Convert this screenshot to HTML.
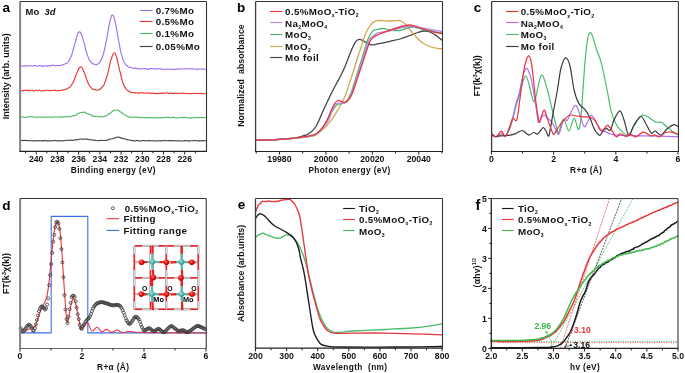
<!DOCTYPE html>
<html><head><meta charset="utf-8"><style>
html,body{margin:0;padding:0;background:#fff;}
svg{display:block;font-family:"Liberation Sans", sans-serif;will-change:transform;filter:blur(0.3px);}
</style></head><body>
<svg width="685" height="373" viewBox="0 0 685 373">
<rect width="685" height="373" fill="#fff"/>
<text x="6.20" y="12.30" font-size="13.5" font-weight="bold" text-anchor="middle" fill="#000" >a</text>
<path d="M20.70,65.91 C20.92,65.88 21.57,65.70 22.00,65.75 C22.43,65.79 22.87,66.20 23.30,66.19 C23.73,66.18 24.17,65.68 24.60,65.66 C25.03,65.65 25.47,66.03 25.90,66.08 C26.33,66.12 26.77,65.99 27.20,65.92 C27.63,65.84 28.07,65.61 28.50,65.63 C28.93,65.65 29.37,66.04 29.80,66.03 C30.23,66.02 30.67,65.61 31.10,65.60 C31.53,65.59 31.97,65.95 32.40,65.95 C32.83,65.95 33.27,65.67 33.70,65.61 C34.13,65.56 34.57,65.57 35.00,65.62 C35.43,65.67 35.87,65.80 36.30,65.91 C36.73,66.02 37.17,66.31 37.60,66.26 C38.03,66.21 38.47,65.71 38.90,65.62 C39.33,65.52 39.77,65.62 40.20,65.69 C40.63,65.76 41.07,65.94 41.50,66.04 C41.93,66.15 42.37,66.33 42.80,66.32 C43.23,66.30 43.67,66.05 44.10,65.96 C44.53,65.88 44.97,65.73 45.40,65.78 C45.83,65.84 46.27,66.34 46.70,66.28 C47.13,66.22 47.57,65.45 48.00,65.42 C48.43,65.40 48.87,66.10 49.30,66.13 C49.73,66.15 50.17,65.70 50.60,65.59 C51.03,65.47 51.47,65.46 51.90,65.42 C52.33,65.38 52.77,65.35 53.20,65.36 C53.63,65.37 54.07,65.40 54.50,65.49 C54.93,65.58 55.37,65.93 55.80,65.90 C56.23,65.86 56.67,65.32 57.10,65.27 C57.53,65.21 57.97,65.51 58.40,65.56 C58.83,65.60 59.27,65.59 59.70,65.52 C60.13,65.46 60.57,65.23 61.00,65.16 C61.43,65.10 61.87,65.27 62.30,65.15 C62.73,65.04 63.17,64.65 63.60,64.46 C64.03,64.28 64.47,64.20 64.90,64.05 C65.33,63.89 65.77,63.71 66.20,63.51 C66.63,63.32 67.07,63.30 67.50,62.89 C67.93,62.48 68.37,61.76 68.80,61.05 C69.23,60.34 69.67,59.51 70.10,58.62 C70.53,57.73 70.97,56.87 71.40,55.69 C71.83,54.52 72.27,53.05 72.70,51.56 C73.13,50.07 73.57,48.29 74.00,46.73 C74.43,45.17 74.87,43.74 75.30,42.18 C75.73,40.63 76.17,38.88 76.60,37.41 C77.03,35.94 77.47,34.30 77.90,33.38 C78.33,32.47 78.77,32.07 79.20,31.91 C79.63,31.74 80.07,31.81 80.50,32.39 C80.93,32.98 81.37,34.23 81.80,35.42 C82.23,36.61 82.67,38.09 83.10,39.54 C83.53,40.99 83.97,42.42 84.40,44.12 C84.83,45.82 85.27,48.18 85.70,49.74 C86.13,51.29 86.57,52.17 87.00,53.45 C87.43,54.72 87.87,56.23 88.30,57.40 C88.73,58.58 89.17,59.75 89.60,60.50 C90.03,61.25 90.47,61.42 90.90,61.91 C91.33,62.41 91.77,63.16 92.20,63.48 C92.63,63.79 93.07,63.60 93.50,63.79 C93.93,63.99 94.37,64.52 94.80,64.67 C95.23,64.83 95.67,64.81 96.10,64.72 C96.53,64.64 96.97,64.35 97.40,64.17 C97.83,63.99 98.27,64.04 98.70,63.63 C99.13,63.22 99.57,62.35 100.00,61.72 C100.43,61.09 100.87,60.72 101.30,59.85 C101.73,58.99 102.17,57.82 102.60,56.53 C103.03,55.23 103.47,53.79 103.90,52.08 C104.33,50.38 104.77,48.33 105.20,46.30 C105.63,44.27 106.07,42.19 106.50,39.92 C106.93,37.65 107.37,35.16 107.80,32.70 C108.23,30.24 108.67,27.36 109.10,25.14 C109.53,22.92 109.97,21.02 110.40,19.37 C110.83,17.71 111.27,15.87 111.70,15.19 C112.13,14.51 112.57,14.81 113.00,15.30 C113.43,15.79 113.87,16.66 114.30,18.11 C114.73,19.55 115.17,21.81 115.60,23.95 C116.03,26.08 116.47,28.56 116.90,30.91 C117.33,33.26 117.77,35.63 118.20,38.04 C118.63,40.45 119.07,43.06 119.50,45.37 C119.93,47.69 120.37,50.08 120.80,51.92 C121.23,53.76 121.67,54.96 122.10,56.41 C122.53,57.86 122.97,59.51 123.40,60.62 C123.83,61.72 124.27,62.35 124.70,63.05 C125.13,63.75 125.57,64.34 126.00,64.82 C126.43,65.30 126.87,65.52 127.30,65.94 C127.73,66.35 128.17,67.10 128.60,67.31 C129.03,67.52 129.47,67.15 129.90,67.20 C130.33,67.25 130.77,67.49 131.20,67.61 C131.63,67.73 132.07,67.79 132.50,67.94 C132.93,68.10 133.37,68.53 133.80,68.53 C134.23,68.52 134.67,67.96 135.10,67.93 C135.53,67.90 135.97,68.26 136.40,68.36 C136.83,68.46 137.27,68.44 137.70,68.53 C138.13,68.62 138.57,68.84 139.00,68.90 C139.43,68.96 139.87,68.89 140.30,68.90 C140.73,68.92 141.17,69.06 141.60,69.00 C142.03,68.93 142.47,68.57 142.90,68.52 C143.33,68.46 143.77,68.66 144.20,68.68 C144.63,68.71 145.07,68.59 145.50,68.67 C145.93,68.75 146.37,69.07 146.80,69.17 C147.23,69.27 147.67,69.37 148.10,69.27 C148.53,69.17 148.97,68.68 149.40,68.57 C149.83,68.46 150.27,68.60 150.70,68.62 C151.13,68.64 151.57,68.68 152.00,68.69 C152.43,68.71 152.87,68.67 153.30,68.71 C153.73,68.76 154.17,68.90 154.60,68.96 C155.03,69.02 155.47,69.10 155.90,69.07 C156.33,69.04 156.77,68.88 157.20,68.79 C157.63,68.71 158.07,68.55 158.50,68.58 C158.93,68.60 159.37,68.90 159.80,68.96 C160.23,69.02 160.67,68.91 161.10,68.93 C161.53,68.96 161.97,69.03 162.40,69.12 C162.83,69.21 163.27,69.46 163.70,69.48 C164.13,69.50 164.57,69.32 165.00,69.25 C165.43,69.19 165.87,69.11 166.30,69.11 C166.73,69.10 167.17,69.18 167.60,69.21 C168.03,69.23 168.47,69.35 168.90,69.27 C169.33,69.19 169.77,68.68 170.20,68.72 C170.63,68.75 171.07,69.37 171.50,69.48 C171.93,69.60 172.37,69.39 172.80,69.38 C173.23,69.38 173.67,69.47 174.10,69.48 C174.53,69.48 174.97,69.48 175.40,69.41 C175.83,69.34 176.27,69.11 176.70,69.05 C177.13,69.00 177.57,69.11 178.00,69.07 C178.43,69.02 178.87,68.77 179.30,68.80 C179.73,68.84 180.17,69.29 180.60,69.29 C181.03,69.28 181.47,68.86 181.90,68.78 C182.33,68.69 182.77,68.76 183.20,68.79 C183.63,68.81 184.07,68.90 184.50,68.92 C184.93,68.93 185.37,68.86 185.80,68.88 C186.23,68.90 186.67,69.06 187.10,69.04 C187.53,69.03 187.97,68.84 188.40,68.79 C188.83,68.74 189.27,68.73 189.70,68.75 C190.13,68.76 190.57,68.87 191.00,68.89 C191.43,68.90 191.87,68.81 192.30,68.84 C192.73,68.88 193.17,69.09 193.60,69.08 C194.03,69.07 194.47,68.70 194.90,68.78 C195.33,68.86 195.77,69.46 196.20,69.55 C196.63,69.64 197.07,69.42 197.50,69.32 C197.93,69.21 198.37,68.95 198.80,68.90 C199.23,68.85 199.67,68.97 200.10,69.00 C200.53,69.03 200.97,69.07 201.40,69.08 C201.83,69.10 202.27,69.13 202.70,69.10 C203.13,69.07 203.57,68.81 204.00,68.89 C204.43,68.96 205.08,69.43 205.30,69.54" fill="none" stroke="#a070f0" stroke-width="1.15" stroke-linejoin="round" stroke-linecap="round" />
<path d="M20.70,91.05 C20.92,90.97 21.57,90.65 22.00,90.58 C22.43,90.50 22.87,90.65 23.30,90.59 C23.73,90.53 24.17,90.29 24.60,90.23 C25.03,90.17 25.47,90.20 25.90,90.24 C26.33,90.28 26.77,90.43 27.20,90.45 C27.63,90.47 28.07,90.31 28.50,90.38 C28.93,90.45 29.37,90.90 29.80,90.88 C30.23,90.86 30.67,90.40 31.10,90.27 C31.53,90.15 31.97,90.03 32.40,90.14 C32.83,90.26 33.27,90.90 33.70,90.97 C34.13,91.05 34.57,90.71 35.00,90.59 C35.43,90.47 35.87,90.24 36.30,90.24 C36.73,90.24 37.17,90.61 37.60,90.59 C38.03,90.57 38.47,90.12 38.90,90.12 C39.33,90.11 39.77,90.42 40.20,90.56 C40.63,90.70 41.07,90.91 41.50,90.95 C41.93,91.00 42.37,90.89 42.80,90.84 C43.23,90.80 43.67,90.77 44.10,90.68 C44.53,90.59 44.97,90.33 45.40,90.28 C45.83,90.22 46.27,90.38 46.70,90.36 C47.13,90.34 47.57,90.11 48.00,90.16 C48.43,90.22 48.87,90.64 49.30,90.69 C49.73,90.74 50.17,90.46 50.60,90.46 C51.03,90.45 51.47,90.70 51.90,90.66 C52.33,90.62 52.77,90.33 53.20,90.23 C53.63,90.14 54.07,90.05 54.50,90.11 C54.93,90.17 55.37,90.51 55.80,90.61 C56.23,90.72 56.67,90.74 57.10,90.73 C57.53,90.73 57.97,90.62 58.40,90.57 C58.83,90.53 59.27,90.51 59.70,90.48 C60.13,90.46 60.57,90.47 61.00,90.43 C61.43,90.40 61.87,90.40 62.30,90.28 C62.73,90.16 63.17,89.78 63.60,89.70 C64.03,89.62 64.47,89.84 64.90,89.78 C65.33,89.72 65.77,89.54 66.20,89.34 C66.63,89.14 67.07,88.82 67.50,88.57 C67.93,88.31 68.37,88.09 68.80,87.80 C69.23,87.52 69.67,87.30 70.10,86.85 C70.53,86.41 70.97,85.74 71.40,85.14 C71.83,84.53 72.27,83.99 72.70,83.22 C73.13,82.46 73.57,81.64 74.00,80.56 C74.43,79.48 74.87,77.89 75.30,76.75 C75.73,75.60 76.17,74.72 76.60,73.68 C77.03,72.65 77.47,71.45 77.90,70.54 C78.33,69.62 78.77,68.82 79.20,68.20 C79.63,67.57 80.07,66.91 80.50,66.78 C80.93,66.65 81.37,66.95 81.80,67.44 C82.23,67.92 82.67,68.79 83.10,69.70 C83.53,70.61 83.97,71.76 84.40,72.88 C84.83,74.01 85.27,75.23 85.70,76.47 C86.13,77.70 86.57,79.12 87.00,80.30 C87.43,81.48 87.87,82.63 88.30,83.56 C88.73,84.49 89.17,85.27 89.60,85.90 C90.03,86.53 90.47,86.88 90.90,87.34 C91.33,87.81 91.77,88.32 92.20,88.70 C92.63,89.07 93.07,89.47 93.50,89.57 C93.93,89.68 94.37,89.27 94.80,89.34 C95.23,89.42 95.67,89.88 96.10,90.03 C96.53,90.18 96.97,90.25 97.40,90.22 C97.83,90.19 98.27,90.01 98.70,89.86 C99.13,89.72 99.57,89.61 100.00,89.33 C100.43,89.05 100.87,88.67 101.30,88.20 C101.73,87.73 102.17,87.06 102.60,86.51 C103.03,85.96 103.47,85.76 103.90,84.92 C104.33,84.09 104.77,82.66 105.20,81.50 C105.63,80.34 106.07,79.33 106.50,77.96 C106.93,76.60 107.37,75.06 107.80,73.29 C108.23,71.53 108.67,69.27 109.10,67.37 C109.53,65.47 109.97,63.54 110.40,61.91 C110.83,60.29 111.27,58.92 111.70,57.63 C112.13,56.35 112.57,55.02 113.00,54.21 C113.43,53.40 113.87,52.76 114.30,52.79 C114.73,52.82 115.17,53.49 115.60,54.40 C116.03,55.31 116.47,56.63 116.90,58.25 C117.33,59.88 117.77,62.22 118.20,64.15 C118.63,66.07 119.07,68.03 119.50,69.80 C119.93,71.56 120.37,73.01 120.80,74.74 C121.23,76.48 121.67,78.63 122.10,80.22 C122.53,81.81 122.97,83.17 123.40,84.30 C123.83,85.43 124.27,86.23 124.70,86.98 C125.13,87.73 125.57,88.24 126.00,88.81 C126.43,89.38 126.87,90.05 127.30,90.40 C127.73,90.76 128.17,90.77 128.60,90.93 C129.03,91.10 129.47,91.12 129.90,91.40 C130.33,91.68 130.77,92.42 131.20,92.61 C131.63,92.80 132.07,92.55 132.50,92.55 C132.93,92.55 133.37,92.51 133.80,92.59 C134.23,92.68 134.67,93.05 135.10,93.07 C135.53,93.09 135.97,92.69 136.40,92.71 C136.83,92.73 137.27,93.09 137.70,93.17 C138.13,93.25 138.57,93.27 139.00,93.19 C139.43,93.11 139.87,92.76 140.30,92.69 C140.73,92.62 141.17,92.75 141.60,92.77 C142.03,92.80 142.47,92.84 142.90,92.85 C143.33,92.86 143.77,92.78 144.20,92.84 C144.63,92.89 145.07,93.17 145.50,93.18 C145.93,93.19 146.37,92.93 146.80,92.91 C147.23,92.90 147.67,93.09 148.10,93.08 C148.53,93.07 148.97,92.76 149.40,92.85 C149.83,92.93 150.27,93.53 150.70,93.57 C151.13,93.61 151.57,93.15 152.00,93.08 C152.43,93.02 152.87,93.16 153.30,93.20 C153.73,93.24 154.17,93.25 154.60,93.32 C155.03,93.40 155.47,93.65 155.90,93.63 C156.33,93.61 156.77,93.20 157.20,93.20 C157.63,93.21 158.07,93.65 158.50,93.66 C158.93,93.68 159.37,93.35 159.80,93.30 C160.23,93.25 160.67,93.33 161.10,93.34 C161.53,93.34 161.97,93.41 162.40,93.34 C162.83,93.27 163.27,92.90 163.70,92.89 C164.13,92.88 164.57,93.25 165.00,93.28 C165.43,93.31 165.87,93.12 166.30,93.06 C166.73,92.99 167.17,92.81 167.60,92.90 C168.03,93.00 168.47,93.60 168.90,93.63 C169.33,93.65 169.77,93.11 170.20,93.07 C170.63,93.02 171.07,93.26 171.50,93.34 C171.93,93.43 172.37,93.56 172.80,93.58 C173.23,93.59 173.67,93.49 174.10,93.43 C174.53,93.37 174.97,93.23 175.40,93.23 C175.83,93.22 176.27,93.37 176.70,93.40 C177.13,93.44 177.57,93.40 178.00,93.44 C178.43,93.48 178.87,93.72 179.30,93.65 C179.73,93.59 180.17,93.08 180.60,93.05 C181.03,93.01 181.47,93.44 181.90,93.46 C182.33,93.48 182.77,93.22 183.20,93.18 C183.63,93.14 184.07,93.13 184.50,93.21 C184.93,93.29 185.37,93.62 185.80,93.66 C186.23,93.69 186.67,93.45 187.10,93.42 C187.53,93.39 187.97,93.44 188.40,93.48 C188.83,93.51 189.27,93.60 189.70,93.66 C190.13,93.71 190.57,93.84 191.00,93.80 C191.43,93.75 191.87,93.42 192.30,93.38 C192.73,93.33 193.17,93.52 193.60,93.53 C194.03,93.54 194.47,93.45 194.90,93.44 C195.33,93.42 195.77,93.42 196.20,93.45 C196.63,93.47 197.07,93.62 197.50,93.61 C197.93,93.60 198.37,93.42 198.80,93.40 C199.23,93.37 199.67,93.47 200.10,93.47 C200.53,93.48 200.97,93.36 201.40,93.42 C201.83,93.48 202.27,93.81 202.70,93.84 C203.13,93.88 203.57,93.63 204.00,93.63 C204.43,93.62 205.08,93.76 205.30,93.79" fill="none" stroke="#e83535" stroke-width="1.15" stroke-linejoin="round" stroke-linecap="round" />
<path d="M20.70,117.43 C20.92,117.34 21.57,116.94 22.00,116.89 C22.43,116.83 22.87,117.03 23.30,117.13 C23.73,117.22 24.17,117.39 24.60,117.43 C25.03,117.47 25.47,117.46 25.90,117.35 C26.33,117.24 26.77,116.88 27.20,116.79 C27.63,116.69 28.07,116.73 28.50,116.77 C28.93,116.81 29.37,117.03 29.80,117.03 C30.23,117.02 30.67,116.76 31.10,116.73 C31.53,116.70 31.97,116.86 32.40,116.86 C32.83,116.86 33.27,116.67 33.70,116.73 C34.13,116.79 34.57,117.11 35.00,117.20 C35.43,117.30 35.87,117.26 36.30,117.29 C36.73,117.32 37.17,117.47 37.60,117.38 C38.03,117.30 38.47,116.81 38.90,116.79 C39.33,116.76 39.77,117.17 40.20,117.24 C40.63,117.30 41.07,117.27 41.50,117.19 C41.93,117.11 42.37,116.74 42.80,116.77 C43.23,116.80 43.67,117.25 44.10,117.36 C44.53,117.47 44.97,117.52 45.40,117.43 C45.83,117.34 46.27,116.83 46.70,116.83 C47.13,116.82 47.57,117.39 48.00,117.41 C48.43,117.43 48.87,117.03 49.30,116.96 C49.73,116.90 50.17,116.95 50.60,117.03 C51.03,117.11 51.47,117.38 51.90,117.43 C52.33,117.47 52.77,117.41 53.20,117.30 C53.63,117.19 54.07,116.81 54.50,116.76 C54.93,116.70 55.37,116.92 55.80,116.97 C56.23,117.01 56.67,117.04 57.10,117.03 C57.53,117.01 57.97,116.92 58.40,116.88 C58.83,116.83 59.27,116.76 59.70,116.75 C60.13,116.75 60.57,116.77 61.00,116.84 C61.43,116.90 61.87,117.19 62.30,117.15 C62.73,117.10 63.17,116.59 63.60,116.56 C64.03,116.53 64.47,116.91 64.90,116.96 C65.33,117.00 65.77,116.91 66.20,116.82 C66.63,116.73 67.07,116.45 67.50,116.40 C67.93,116.36 68.37,116.51 68.80,116.54 C69.23,116.58 69.67,116.66 70.10,116.61 C70.53,116.57 70.97,116.46 71.40,116.29 C71.83,116.13 72.27,115.68 72.70,115.62 C73.13,115.56 73.57,116.01 74.00,115.95 C74.43,115.90 74.87,115.48 75.30,115.31 C75.73,115.13 76.17,115.17 76.60,114.89 C77.03,114.61 77.47,113.89 77.90,113.60 C78.33,113.31 78.77,113.33 79.20,113.14 C79.63,112.95 80.07,112.53 80.50,112.46 C80.93,112.39 81.37,112.75 81.80,112.70 C82.23,112.65 82.67,112.26 83.10,112.17 C83.53,112.08 83.97,112.08 84.40,112.18 C84.83,112.27 85.27,112.51 85.70,112.75 C86.13,113.00 86.57,113.42 87.00,113.65 C87.43,113.89 87.87,114.06 88.30,114.17 C88.73,114.29 89.17,114.23 89.60,114.34 C90.03,114.45 90.47,114.56 90.90,114.83 C91.33,115.10 91.77,115.74 92.20,115.95 C92.63,116.16 93.07,115.99 93.50,116.09 C93.93,116.18 94.37,116.48 94.80,116.51 C95.23,116.53 95.67,116.27 96.10,116.25 C96.53,116.22 96.97,116.25 97.40,116.37 C97.83,116.48 98.27,116.88 98.70,116.95 C99.13,117.01 99.57,116.84 100.00,116.75 C100.43,116.66 100.87,116.37 101.30,116.41 C101.73,116.44 102.17,116.95 102.60,116.96 C103.03,116.98 103.47,116.60 103.90,116.48 C104.33,116.36 104.77,116.47 105.20,116.25 C105.63,116.03 106.07,115.35 106.50,115.15 C106.93,114.96 107.37,115.34 107.80,115.09 C108.23,114.83 108.67,113.91 109.10,113.61 C109.53,113.30 109.97,113.55 110.40,113.27 C110.83,112.99 111.27,112.33 111.70,111.93 C112.13,111.53 112.57,111.16 113.00,110.89 C113.43,110.62 113.87,110.43 114.30,110.32 C114.73,110.21 115.17,110.33 115.60,110.23 C116.03,110.14 116.47,109.77 116.90,109.76 C117.33,109.74 117.77,109.88 118.20,110.13 C118.63,110.39 119.07,110.95 119.50,111.27 C119.93,111.60 120.37,111.77 120.80,112.06 C121.23,112.35 121.67,112.68 122.10,113.01 C122.53,113.35 122.97,113.75 123.40,114.06 C123.83,114.36 124.27,114.57 124.70,114.84 C125.13,115.11 125.57,115.42 126.00,115.66 C126.43,115.90 126.87,116.12 127.30,116.29 C127.73,116.45 128.17,116.50 128.60,116.66 C129.03,116.83 129.47,117.22 129.90,117.29 C130.33,117.36 130.77,117.07 131.20,117.08 C131.63,117.09 132.07,117.35 132.50,117.36 C132.93,117.38 133.37,117.17 133.80,117.17 C134.23,117.17 134.67,117.36 135.10,117.35 C135.53,117.35 135.97,117.13 136.40,117.12 C136.83,117.12 137.27,117.32 137.70,117.33 C138.13,117.34 138.57,117.09 139.00,117.16 C139.43,117.23 139.87,117.67 140.30,117.75 C140.73,117.82 141.17,117.68 141.60,117.62 C142.03,117.55 142.47,117.34 142.90,117.34 C143.33,117.33 143.77,117.47 144.20,117.57 C144.63,117.68 145.07,118.00 145.50,117.95 C145.93,117.90 146.37,117.31 146.80,117.29 C147.23,117.28 147.67,117.83 148.10,117.87 C148.53,117.92 148.97,117.61 149.40,117.57 C149.83,117.53 150.27,117.57 150.70,117.62 C151.13,117.68 151.57,117.91 152.00,117.90 C152.43,117.89 152.87,117.59 153.30,117.55 C153.73,117.51 154.17,117.60 154.60,117.64 C155.03,117.68 155.47,117.73 155.90,117.79 C156.33,117.86 156.77,118.08 157.20,118.03 C157.63,117.99 158.07,117.54 158.50,117.52 C158.93,117.50 159.37,117.87 159.80,117.92 C160.23,117.97 160.67,117.84 161.10,117.82 C161.53,117.79 161.97,117.80 162.40,117.77 C162.83,117.73 163.27,117.62 163.70,117.58 C164.13,117.54 164.57,117.58 165.00,117.54 C165.43,117.49 165.87,117.33 166.30,117.31 C166.73,117.28 167.17,117.37 167.60,117.37 C168.03,117.37 168.47,117.24 168.90,117.32 C169.33,117.40 169.77,117.83 170.20,117.86 C170.63,117.88 171.07,117.55 171.50,117.47 C171.93,117.40 172.37,117.42 172.80,117.40 C173.23,117.38 173.67,117.25 174.10,117.34 C174.53,117.43 174.97,117.84 175.40,117.95 C175.83,118.05 176.27,117.99 176.70,117.97 C177.13,117.95 177.57,117.89 178.00,117.81 C178.43,117.73 178.87,117.56 179.30,117.50 C179.73,117.44 180.17,117.47 180.60,117.47 C181.03,117.47 181.47,117.48 181.90,117.51 C182.33,117.54 182.77,117.66 183.20,117.65 C183.63,117.63 184.07,117.41 184.50,117.40 C184.93,117.40 185.37,117.62 185.80,117.64 C186.23,117.65 186.67,117.42 187.10,117.49 C187.53,117.56 187.97,117.96 188.40,118.05 C188.83,118.15 189.27,118.11 189.70,118.06 C190.13,118.00 190.57,117.82 191.00,117.72 C191.43,117.62 191.87,117.42 192.30,117.48 C192.73,117.53 193.17,118.05 193.60,118.06 C194.03,118.06 194.47,117.61 194.90,117.53 C195.33,117.45 195.77,117.61 196.20,117.57 C196.63,117.53 197.07,117.28 197.50,117.29 C197.93,117.29 198.37,117.53 198.80,117.59 C199.23,117.65 199.67,117.65 200.10,117.67 C200.53,117.68 200.97,117.72 201.40,117.69 C201.83,117.65 202.27,117.45 202.70,117.45 C203.13,117.45 203.57,117.72 204.00,117.69 C204.43,117.67 205.08,117.36 205.30,117.29" fill="none" stroke="#4cbb6c" stroke-width="1.15" stroke-linejoin="round" stroke-linecap="round" />
<path d="M20.70,140.55 C20.92,140.53 21.57,140.43 22.00,140.44 C22.43,140.46 22.87,140.63 23.30,140.63 C23.73,140.63 24.17,140.45 24.60,140.41 C25.03,140.38 25.47,140.38 25.90,140.40 C26.33,140.43 26.77,140.55 27.20,140.57 C27.63,140.59 28.07,140.50 28.50,140.53 C28.93,140.56 29.37,140.71 29.80,140.74 C30.23,140.77 30.67,140.69 31.10,140.71 C31.53,140.72 31.97,140.82 32.40,140.84 C32.83,140.85 33.27,140.78 33.70,140.78 C34.13,140.78 34.57,140.79 35.00,140.82 C35.43,140.84 35.87,140.95 36.30,140.91 C36.73,140.88 37.17,140.67 37.60,140.62 C38.03,140.56 38.47,140.52 38.90,140.58 C39.33,140.64 39.77,140.99 40.20,140.97 C40.63,140.96 41.07,140.50 41.50,140.47 C41.93,140.45 42.37,140.77 42.80,140.82 C43.23,140.87 43.67,140.83 44.10,140.77 C44.53,140.70 44.97,140.39 45.40,140.41 C45.83,140.42 46.27,140.80 46.70,140.88 C47.13,140.96 47.57,140.93 48.00,140.91 C48.43,140.89 48.87,140.77 49.30,140.75 C49.73,140.74 50.17,140.80 50.60,140.81 C51.03,140.83 51.47,140.92 51.90,140.86 C52.33,140.80 52.77,140.48 53.20,140.45 C53.63,140.42 54.07,140.65 54.50,140.68 C54.93,140.72 55.37,140.64 55.80,140.67 C56.23,140.70 56.67,140.83 57.10,140.86 C57.53,140.89 57.97,140.84 58.40,140.84 C58.83,140.84 59.27,140.87 59.70,140.85 C60.13,140.83 60.57,140.69 61.00,140.70 C61.43,140.70 61.87,140.87 62.30,140.88 C62.73,140.88 63.17,140.76 63.60,140.74 C64.03,140.71 64.47,140.78 64.90,140.73 C65.33,140.67 65.77,140.50 66.20,140.42 C66.63,140.35 67.07,140.29 67.50,140.27 C67.93,140.24 68.37,140.26 68.80,140.28 C69.23,140.29 69.67,140.37 70.10,140.34 C70.53,140.31 70.97,140.08 71.40,140.09 C71.83,140.10 72.27,140.40 72.70,140.40 C73.13,140.40 73.57,140.16 74.00,140.08 C74.43,140.00 74.87,140.00 75.30,139.94 C75.73,139.89 76.17,139.81 76.60,139.75 C77.03,139.68 77.47,139.66 77.90,139.58 C78.33,139.50 78.77,139.40 79.20,139.27 C79.63,139.15 80.07,138.84 80.50,138.83 C80.93,138.81 81.37,139.15 81.80,139.20 C82.23,139.25 82.67,139.17 83.10,139.14 C83.53,139.11 83.97,139.03 84.40,139.04 C84.83,139.04 85.27,139.11 85.70,139.17 C86.13,139.23 86.57,139.39 87.00,139.41 C87.43,139.42 87.87,139.17 88.30,139.24 C88.73,139.32 89.17,139.76 89.60,139.84 C90.03,139.93 90.47,139.75 90.90,139.75 C91.33,139.74 91.77,139.76 92.20,139.81 C92.63,139.87 93.07,139.96 93.50,140.07 C93.93,140.18 94.37,140.44 94.80,140.47 C95.23,140.49 95.67,140.21 96.10,140.24 C96.53,140.26 96.97,140.52 97.40,140.62 C97.83,140.71 98.27,140.81 98.70,140.79 C99.13,140.78 99.57,140.58 100.00,140.52 C100.43,140.46 100.87,140.45 101.30,140.44 C101.73,140.43 102.17,140.45 102.60,140.47 C103.03,140.48 103.47,140.52 103.90,140.52 C104.33,140.52 104.77,140.52 105.20,140.47 C105.63,140.42 106.07,140.30 106.50,140.22 C106.93,140.15 107.37,140.16 107.80,140.03 C108.23,139.89 108.67,139.57 109.10,139.41 C109.53,139.26 109.97,139.22 110.40,139.12 C110.83,139.02 111.27,138.87 111.70,138.80 C112.13,138.72 112.57,138.81 113.00,138.68 C113.43,138.55 113.87,138.16 114.30,138.01 C114.73,137.87 115.17,137.95 115.60,137.82 C116.03,137.70 116.47,137.35 116.90,137.25 C117.33,137.14 117.77,137.16 118.20,137.18 C118.63,137.21 119.07,137.28 119.50,137.39 C119.93,137.50 120.37,137.72 120.80,137.86 C121.23,138.00 121.67,138.10 122.10,138.22 C122.53,138.35 122.97,138.52 123.40,138.62 C123.83,138.72 124.27,138.69 124.70,138.81 C125.13,138.93 125.57,139.20 126.00,139.35 C126.43,139.49 126.87,139.57 127.30,139.67 C127.73,139.77 128.17,139.91 128.60,139.96 C129.03,140.01 129.47,139.87 129.90,139.98 C130.33,140.09 130.77,140.56 131.20,140.61 C131.63,140.67 132.07,140.28 132.50,140.32 C132.93,140.36 133.37,140.77 133.80,140.87 C134.23,140.96 134.67,140.98 135.10,140.90 C135.53,140.82 135.97,140.42 136.40,140.38 C136.83,140.34 137.27,140.58 137.70,140.67 C138.13,140.76 138.57,140.85 139.00,140.90 C139.43,140.96 139.87,141.04 140.30,141.00 C140.73,140.97 141.17,140.77 141.60,140.70 C142.03,140.63 142.47,140.62 142.90,140.60 C143.33,140.58 143.77,140.50 144.20,140.57 C144.63,140.64 145.07,141.01 145.50,141.02 C145.93,141.02 146.37,140.61 146.80,140.58 C147.23,140.54 147.67,140.81 148.10,140.80 C148.53,140.80 148.97,140.55 149.40,140.54 C149.83,140.54 150.27,140.69 150.70,140.78 C151.13,140.86 151.57,141.07 152.00,141.04 C152.43,141.00 152.87,140.56 153.30,140.55 C153.73,140.53 154.17,140.92 154.60,140.96 C155.03,141.00 155.47,140.77 155.90,140.78 C156.33,140.78 156.77,140.98 157.20,141.00 C157.63,141.02 158.07,140.96 158.50,140.90 C158.93,140.83 159.37,140.59 159.80,140.61 C160.23,140.63 160.67,140.99 161.10,141.02 C161.53,141.04 161.97,140.86 162.40,140.77 C162.83,140.68 163.27,140.54 163.70,140.49 C164.13,140.45 164.57,140.44 165.00,140.48 C165.43,140.53 165.87,140.73 166.30,140.78 C166.73,140.82 167.17,140.77 167.60,140.75 C168.03,140.73 168.47,140.69 168.90,140.66 C169.33,140.63 169.77,140.56 170.20,140.57 C170.63,140.57 171.07,140.67 171.50,140.69 C171.93,140.71 172.37,140.63 172.80,140.67 C173.23,140.72 173.67,141.02 174.10,140.99 C174.53,140.96 174.97,140.50 175.40,140.49 C175.83,140.48 176.27,140.85 176.70,140.94 C177.13,141.02 177.57,141.05 178.00,140.99 C178.43,140.93 178.87,140.55 179.30,140.56 C179.73,140.57 180.17,140.98 180.60,141.04 C181.03,141.10 181.47,140.92 181.90,140.92 C182.33,140.91 182.77,141.07 183.20,141.03 C183.63,140.99 184.07,140.72 184.50,140.66 C184.93,140.61 185.37,140.70 185.80,140.71 C186.23,140.72 186.67,140.66 187.10,140.73 C187.53,140.79 187.97,141.07 188.40,141.09 C188.83,141.11 189.27,140.91 189.70,140.84 C190.13,140.78 190.57,140.72 191.00,140.71 C191.43,140.69 191.87,140.76 192.30,140.75 C192.73,140.74 193.17,140.69 193.60,140.66 C194.03,140.62 194.47,140.54 194.90,140.52 C195.33,140.50 195.77,140.47 196.20,140.55 C196.63,140.63 197.07,140.98 197.50,140.99 C197.93,141.01 198.37,140.65 198.80,140.66 C199.23,140.67 199.67,141.06 200.10,141.05 C200.53,141.05 200.97,140.71 201.40,140.64 C201.83,140.58 202.27,140.63 202.70,140.65 C203.13,140.68 203.57,140.81 204.00,140.80 C204.43,140.79 205.08,140.64 205.30,140.61" fill="none" stroke="#444" stroke-width="1.15" stroke-linejoin="round" stroke-linecap="round" />
<line x1="20.10" y1="1.50" x2="20.10" y2="151.40" stroke="#858585" stroke-width="2.0" />
<line x1="19.40" y1="151.40" x2="207.00" y2="151.40" stroke="#222" stroke-width="1.2" />
<line x1="20.10" y1="1.50" x2="206.50" y2="1.50" stroke="#333" stroke-width="1.0" />
<line x1="206.50" y1="1.50" x2="206.50" y2="151.40" stroke="#333" stroke-width="1.1" />
<line x1="36.20" y1="151.40" x2="36.20" y2="154.50" stroke="#222" stroke-width="1.0" />
<line x1="57.42" y1="151.40" x2="57.42" y2="154.50" stroke="#222" stroke-width="1.0" />
<line x1="78.64" y1="151.40" x2="78.64" y2="154.50" stroke="#222" stroke-width="1.0" />
<line x1="99.86" y1="151.40" x2="99.86" y2="154.50" stroke="#222" stroke-width="1.0" />
<line x1="121.08" y1="151.40" x2="121.08" y2="154.50" stroke="#222" stroke-width="1.0" />
<line x1="142.30" y1="151.40" x2="142.30" y2="154.50" stroke="#222" stroke-width="1.0" />
<line x1="163.52" y1="151.40" x2="163.52" y2="154.50" stroke="#222" stroke-width="1.0" />
<line x1="184.74" y1="151.40" x2="184.74" y2="154.50" stroke="#222" stroke-width="1.0" />
<line x1="25.59" y1="151.40" x2="25.59" y2="153.40" stroke="#222" stroke-width="1.0" />
<line x1="46.81" y1="151.40" x2="46.81" y2="153.40" stroke="#222" stroke-width="1.0" />
<line x1="68.03" y1="151.40" x2="68.03" y2="153.40" stroke="#222" stroke-width="1.0" />
<line x1="89.25" y1="151.40" x2="89.25" y2="153.40" stroke="#222" stroke-width="1.0" />
<line x1="110.47" y1="151.40" x2="110.47" y2="153.40" stroke="#222" stroke-width="1.0" />
<line x1="131.69" y1="151.40" x2="131.69" y2="153.40" stroke="#222" stroke-width="1.0" />
<line x1="152.91" y1="151.40" x2="152.91" y2="153.40" stroke="#222" stroke-width="1.0" />
<line x1="174.13" y1="151.40" x2="174.13" y2="153.40" stroke="#222" stroke-width="1.0" />
<line x1="195.35" y1="151.40" x2="195.35" y2="153.40" stroke="#222" stroke-width="1.0" />
<text x="36.20" y="162.00" font-size="8.7" font-weight="bold" text-anchor="middle" fill="#111" >240</text>
<text x="57.42" y="162.00" font-size="8.7" font-weight="bold" text-anchor="middle" fill="#111" >238</text>
<text x="78.64" y="162.00" font-size="8.7" font-weight="bold" text-anchor="middle" fill="#111" >236</text>
<text x="99.86" y="162.00" font-size="8.7" font-weight="bold" text-anchor="middle" fill="#111" >234</text>
<text x="121.08" y="162.00" font-size="8.7" font-weight="bold" text-anchor="middle" fill="#111" >232</text>
<text x="142.30" y="162.00" font-size="8.7" font-weight="bold" text-anchor="middle" fill="#111" >230</text>
<text x="163.52" y="162.00" font-size="8.7" font-weight="bold" text-anchor="middle" fill="#111" >228</text>
<text x="184.74" y="162.00" font-size="8.7" font-weight="bold" text-anchor="middle" fill="#111" >226</text>
<text x="113.38" y="173.00" font-size="8.3" font-weight="bold" text-anchor="middle" fill="#111" letter-spacing="0.35" >Binding energy (eV)</text>
<text x="9.00" y="76.30" font-size="9.0" font-weight="bold" text-anchor="middle" fill="#111" transform="rotate(-90 9.0 76.3)">Intensity (arb. units)</text>
<text x="25.60" y="14.80" font-size="9.4" font-weight="bold" text-anchor="start" fill="#111" >Mo</text>
<text x="44.60" y="14.80" font-size="9.4" font-weight="bold" text-anchor="start" fill="#111" font-style="italic">3d</text>
<line x1="139.80" y1="10.50" x2="152.60" y2="10.50" stroke="#a070f0" stroke-width="1.15" />
<text x="155.70" y="14.00" font-size="9.8" font-weight="bold" text-anchor="start" fill="#111" letter-spacing="0.35" >0.7%Mo</text>
<line x1="139.80" y1="21.50" x2="152.60" y2="21.50" stroke="#e83535" stroke-width="1.15" />
<text x="155.70" y="25.30" font-size="9.8" font-weight="bold" text-anchor="start" fill="#111" letter-spacing="0.35" >0.5%Mo</text>
<line x1="139.80" y1="33.50" x2="152.60" y2="33.50" stroke="#4cbb6c" stroke-width="1.15" />
<text x="155.70" y="37.40" font-size="9.8" font-weight="bold" text-anchor="start" fill="#111" letter-spacing="0.35" >0.1%Mo</text>
<line x1="139.80" y1="46.50" x2="152.60" y2="46.50" stroke="#444" stroke-width="1.15" />
<text x="155.70" y="49.80" font-size="9.8" font-weight="bold" text-anchor="start" fill="#111" letter-spacing="0.35" >0.05%Mo</text>
<text x="241.20" y="12.30" font-size="13.5" font-weight="bold" text-anchor="middle" fill="#000" >b</text>
<path d="M255.80,140.40 C259.00,140.27 269.30,139.92 275.00,139.60 C280.70,139.28 285.83,138.97 290.00,138.50 C294.17,138.03 296.83,137.63 300.00,136.80 C303.17,135.97 306.33,135.22 309.00,133.50 C311.67,131.78 313.70,130.17 316.00,126.50 C318.30,122.83 320.53,116.42 322.80,111.50 C325.07,106.58 327.32,101.67 329.60,97.00 C331.88,92.33 334.77,86.83 336.50,83.50 C338.23,80.17 338.62,79.73 340.00,77.00 C341.38,74.27 342.98,71.37 344.80,67.10 C346.62,62.83 349.08,55.63 350.90,51.40 C352.72,47.17 354.30,43.72 355.70,41.70 C357.10,39.68 357.88,39.37 359.30,39.30 C360.72,39.23 362.18,40.37 364.20,41.30 C366.22,42.23 369.00,44.50 371.40,44.90 C373.80,45.30 375.50,44.30 378.60,43.70 C381.70,43.10 386.43,42.08 390.00,41.30 C393.57,40.52 396.67,39.97 400.00,39.00 C403.33,38.03 407.00,36.58 410.00,35.50 C413.00,34.42 415.67,33.25 418.00,32.50 C420.33,31.75 422.00,31.08 424.00,31.00 C426.00,30.92 428.00,31.25 430.00,32.00 C432.00,32.75 433.95,34.10 436.00,35.50 C438.05,36.90 441.25,39.58 442.30,40.40" fill="none" stroke="#444" stroke-width="1.3" stroke-linejoin="round" stroke-linecap="round" />
<path d="M255.80,140.40 C259.83,140.23 272.63,139.87 280.00,139.40 C287.37,138.93 294.38,138.20 300.00,137.60 C305.62,137.00 309.90,137.15 313.70,135.80 C317.50,134.45 319.77,132.25 322.80,129.50 C325.83,126.75 329.23,122.85 331.90,119.30 C334.57,115.75 337.20,110.83 338.80,108.20 C340.40,105.57 340.50,105.40 341.50,103.50 C342.50,101.60 343.83,99.08 344.80,96.80 C345.77,94.52 346.48,92.22 347.30,89.80 C348.12,87.38 348.90,84.77 349.70,82.30 C350.50,79.83 351.30,77.43 352.10,75.00 C352.90,72.57 353.43,71.07 354.50,67.70 C355.57,64.33 357.55,57.75 358.50,54.80 C359.45,51.85 359.50,52.13 360.20,50.00 C360.90,47.87 361.85,44.58 362.70,42.00 C363.55,39.42 364.33,36.83 365.30,34.50 C366.27,32.17 367.28,29.95 368.50,28.00 C369.72,26.05 371.12,24.03 372.60,22.80 C374.08,21.57 375.33,20.93 377.40,20.60 C379.47,20.27 382.57,20.73 385.00,20.80 C387.43,20.87 389.67,21.05 392.00,21.00 C394.33,20.95 397.25,20.37 399.00,20.50 C400.75,20.63 401.25,20.97 402.50,21.80 C403.75,22.63 405.00,23.88 406.50,25.50 C408.00,27.12 409.67,29.33 411.50,31.50 C413.33,33.67 415.50,36.50 417.50,38.50 C419.50,40.50 421.25,42.08 423.50,43.50 C425.75,44.92 428.75,46.20 431.00,47.00 C433.25,47.80 435.12,48.00 437.00,48.30 C438.88,48.60 441.42,48.72 442.30,48.80" fill="none" stroke="#d2a84a" stroke-width="1.3" stroke-linejoin="round" stroke-linecap="round" />
<path d="M255.80,140.40 C259.83,140.23 272.63,139.87 280.00,139.40 C287.37,138.93 294.37,138.27 300.00,137.60 C305.63,136.93 310.80,136.13 313.80,135.40 C316.80,134.67 316.75,134.10 318.00,133.20 C319.25,132.30 320.22,131.20 321.30,130.00 C322.38,128.80 323.48,127.37 324.50,126.00 C325.52,124.63 326.57,123.22 327.40,121.80 C328.23,120.38 328.75,119.13 329.50,117.50 C330.25,115.87 331.07,113.67 331.90,112.00 C332.73,110.33 333.53,108.75 334.50,107.50 C335.47,106.25 336.62,105.12 337.70,104.50 C338.78,103.88 339.95,104.05 341.00,103.80 C342.05,103.55 343.05,103.47 344.00,103.00 C344.95,102.53 345.92,101.87 346.70,101.00 C347.48,100.13 347.95,99.27 348.70,97.80 C349.45,96.33 350.40,94.25 351.20,92.20 C352.00,90.15 352.58,88.33 353.50,85.50 C354.42,82.67 355.63,78.62 356.70,75.20 C357.77,71.78 358.85,68.37 359.90,65.00 C360.95,61.63 362.07,58.07 363.00,55.00 C363.93,51.93 364.75,49.02 365.50,46.60 C366.25,44.18 366.83,42.32 367.50,40.50 C368.17,38.68 368.60,37.28 369.50,35.70 C370.40,34.12 371.78,32.00 372.90,31.00 C374.02,30.00 374.43,30.12 376.20,29.70 C377.97,29.28 381.20,28.43 383.50,28.50 C385.80,28.57 387.33,29.77 390.00,30.10 C392.67,30.43 396.83,30.77 399.50,30.50 C402.17,30.23 403.82,29.05 406.00,28.50 C408.18,27.95 410.27,27.20 412.60,27.20 C414.93,27.20 417.43,27.95 420.00,28.50 C422.57,29.05 425.50,29.95 428.00,30.50 C430.50,31.05 432.62,31.40 435.00,31.80 C437.38,32.20 441.08,32.72 442.30,32.90" fill="none" stroke="#4cbb6c" stroke-width="1.3" stroke-linejoin="round" stroke-linecap="round" />
<path d="M255.80,140.40 C259.83,140.23 272.63,139.87 280.00,139.40 C287.37,138.93 294.37,138.28 300.00,137.60 C305.63,136.92 310.80,136.07 313.80,135.30 C316.80,134.53 316.75,133.92 318.00,133.00 C319.25,132.08 320.22,131.00 321.30,129.80 C322.38,128.60 323.48,127.18 324.50,125.80 C325.52,124.42 326.57,122.97 327.40,121.50 C328.23,120.03 328.75,118.67 329.50,117.00 C330.25,115.33 331.07,113.25 331.90,111.50 C332.73,109.75 333.53,107.88 334.50,106.50 C335.47,105.12 336.62,103.72 337.70,103.20 C338.78,102.68 339.90,103.40 341.00,103.40 C342.10,103.40 343.27,103.55 344.30,103.20 C345.33,102.85 346.38,102.10 347.20,101.30 C348.02,100.50 348.45,99.78 349.20,98.40 C349.95,97.02 350.90,94.98 351.70,93.00 C352.50,91.02 353.08,89.25 354.00,86.50 C354.92,83.75 356.13,79.83 357.20,76.50 C358.27,73.17 359.33,69.83 360.40,66.50 C361.47,63.17 362.67,59.50 363.60,56.50 C364.53,53.50 365.27,50.75 366.00,48.50 C366.73,46.25 367.30,44.67 368.00,43.00 C368.70,41.33 369.20,39.83 370.20,38.50 C371.20,37.17 372.60,35.98 374.00,35.00 C375.40,34.02 375.93,33.28 378.60,32.60 C381.27,31.92 386.43,31.67 390.00,30.90 C393.57,30.13 396.83,28.73 400.00,28.00 C403.17,27.27 406.33,26.67 409.00,26.50 C411.67,26.33 413.33,26.67 416.00,27.00 C418.67,27.33 422.17,28.00 425.00,28.50 C427.83,29.00 430.12,29.50 433.00,30.00 C435.88,30.50 440.75,31.25 442.30,31.50" fill="none" stroke="#b48cf0" stroke-width="1.3" stroke-linejoin="round" stroke-linecap="round" />
<path d="M255.80,140.40 C259.83,140.22 272.63,139.82 280.00,139.30 C287.37,138.78 294.37,138.03 300.00,137.30 C305.63,136.57 310.80,135.73 313.80,134.90 C316.80,134.07 316.75,133.32 318.00,132.30 C319.25,131.28 320.22,130.10 321.30,128.80 C322.38,127.50 323.57,125.92 324.50,124.50 C325.43,123.08 326.12,121.88 326.90,120.30 C327.68,118.72 328.37,116.88 329.20,115.00 C330.03,113.12 331.02,110.87 331.90,109.00 C332.78,107.13 333.53,105.22 334.50,103.80 C335.47,102.38 336.62,100.90 337.70,100.50 C338.78,100.10 339.82,101.08 341.00,101.40 C342.18,101.72 343.72,102.50 344.80,102.40 C345.88,102.30 346.68,101.47 347.50,100.80 C348.32,100.13 348.92,99.62 349.70,98.40 C350.48,97.18 351.40,95.38 352.20,93.50 C353.00,91.62 353.58,89.78 354.50,87.10 C355.42,84.42 356.62,80.63 357.70,77.40 C358.78,74.17 359.92,70.92 361.00,67.70 C362.08,64.48 363.27,60.97 364.20,58.10 C365.13,55.23 365.88,52.68 366.60,50.50 C367.32,48.32 367.85,46.67 368.50,45.00 C369.15,43.33 369.58,41.87 370.50,40.50 C371.42,39.13 372.65,37.80 374.00,36.80 C375.35,35.80 375.93,35.62 378.60,34.50 C381.27,33.38 386.43,31.35 390.00,30.10 C393.57,28.85 396.83,27.85 400.00,27.00 C403.17,26.15 406.33,25.08 409.00,25.00 C411.67,24.92 413.33,25.75 416.00,26.50 C418.67,27.25 422.17,28.62 425.00,29.50 C427.83,30.38 430.12,31.08 433.00,31.80 C435.88,32.52 440.75,33.47 442.30,33.80" fill="none" stroke="#e8343c" stroke-width="1.3" stroke-linejoin="round" stroke-linecap="round" />
<line x1="255.60" y1="1.50" x2="255.60" y2="151.50" stroke="#3a3a3a" stroke-width="1.3" />
<line x1="254.90" y1="151.50" x2="443.00" y2="151.50" stroke="#222" stroke-width="1.2" />
<line x1="255.60" y1="1.50" x2="442.50" y2="1.50" stroke="#333" stroke-width="1.0" />
<line x1="442.50" y1="1.50" x2="442.50" y2="151.50" stroke="#333" stroke-width="1.1" />
<line x1="279.46" y1="151.50" x2="279.46" y2="154.60" stroke="#222" stroke-width="1.0" />
<line x1="325.90" y1="151.50" x2="325.90" y2="154.60" stroke="#222" stroke-width="1.0" />
<line x1="372.34" y1="151.50" x2="372.34" y2="154.60" stroke="#222" stroke-width="1.0" />
<line x1="418.78" y1="151.50" x2="418.78" y2="154.60" stroke="#222" stroke-width="1.0" />
<line x1="256.24" y1="151.50" x2="256.24" y2="153.50" stroke="#222" stroke-width="1.0" />
<line x1="302.68" y1="151.50" x2="302.68" y2="153.50" stroke="#222" stroke-width="1.0" />
<line x1="349.12" y1="151.50" x2="349.12" y2="153.50" stroke="#222" stroke-width="1.0" />
<line x1="395.56" y1="151.50" x2="395.56" y2="153.50" stroke="#222" stroke-width="1.0" />
<line x1="442.00" y1="151.50" x2="442.00" y2="153.50" stroke="#222" stroke-width="1.0" />
<text x="279.46" y="162.00" font-size="8.7" font-weight="bold" text-anchor="middle" fill="#111" >19980</text>
<text x="325.90" y="162.00" font-size="8.7" font-weight="bold" text-anchor="middle" fill="#111" >20000</text>
<text x="372.34" y="162.00" font-size="8.7" font-weight="bold" text-anchor="middle" fill="#111" >20020</text>
<text x="418.78" y="162.00" font-size="8.7" font-weight="bold" text-anchor="middle" fill="#111" >20040</text>
<text x="349.57" y="172.80" font-size="8.3" font-weight="bold" text-anchor="middle" fill="#111" letter-spacing="0.35" >Photon energy (eV)</text>
<text x="243.60" y="75.50" font-size="8.9" font-weight="bold" text-anchor="middle" fill="#111" transform="rotate(-90 243.6 75.5)" xml:space="preserve">Normalized  absorbance</text>
<line x1="270.10" y1="11.50" x2="282.30" y2="11.50" stroke="#e8343c" stroke-width="1.15" />
<text x="285.10" y="14.90" font-size="9.8" font-weight="bold" text-anchor="start" fill="#111" letter-spacing="0.35" >0.5%MoO<tspan font-size="5.1" dy="2.3">x</tspan><tspan dy="-2.3">&#8203;</tspan>-TiO<tspan font-size="5.1" dy="2.3">2</tspan><tspan dy="-2.3">&#8203;</tspan></text>
<line x1="270.10" y1="22.50" x2="282.30" y2="22.50" stroke="#b48cf0" stroke-width="1.15" />
<text x="285.10" y="26.50" font-size="9.8" font-weight="bold" text-anchor="start" fill="#111" letter-spacing="0.35" >Na<tspan font-size="5.1" dy="2.3">2</tspan><tspan dy="-2.3">&#8203;</tspan>MoO<tspan font-size="5.1" dy="2.3">4</tspan><tspan dy="-2.3">&#8203;</tspan></text>
<line x1="270.10" y1="34.50" x2="282.30" y2="34.50" stroke="#4cbb6c" stroke-width="1.15" />
<text x="285.10" y="38.00" font-size="9.8" font-weight="bold" text-anchor="start" fill="#111" letter-spacing="0.35" >MoO<tspan font-size="5.1" dy="2.3">3</tspan><tspan dy="-2.3">&#8203;</tspan></text>
<line x1="270.10" y1="46.50" x2="282.30" y2="46.50" stroke="#d2a84a" stroke-width="1.15" />
<text x="285.10" y="49.60" font-size="9.8" font-weight="bold" text-anchor="start" fill="#111" letter-spacing="0.35" >MoO<tspan font-size="5.1" dy="2.3">2</tspan><tspan dy="-2.3">&#8203;</tspan></text>
<line x1="270.10" y1="57.50" x2="282.30" y2="57.50" stroke="#444" stroke-width="1.15" />
<text x="285.10" y="60.90" font-size="9.8" font-weight="bold" text-anchor="start" fill="#111" letter-spacing="0.35" >Mo foil</text>
<text x="477.60" y="12.30" font-size="13.5" font-weight="bold" text-anchor="middle" fill="#000" >c</text>
<path d="M492.00,133.90 C492.67,134.35 494.43,136.60 496.00,136.60 C497.57,136.60 499.83,134.02 501.40,133.90 C502.97,133.78 504.07,136.63 505.40,135.90 C506.73,135.17 508.17,132.32 509.40,129.50 C510.63,126.68 511.67,123.00 512.80,119.00 C513.93,115.00 515.08,109.50 516.20,105.50 C517.32,101.50 518.45,98.75 519.50,95.00 C520.55,91.25 521.47,86.18 522.50,83.00 C523.53,79.82 524.62,75.73 525.70,75.90 C526.78,76.07 528.03,80.82 529.00,84.00 C529.97,87.18 530.63,92.03 531.50,95.00 C532.37,97.97 533.28,102.30 534.20,101.80 C535.12,101.30 536.12,95.63 537.00,92.00 C537.88,88.37 538.65,82.80 539.50,80.00 C540.35,77.20 541.27,75.20 542.10,75.20 C542.93,75.20 543.62,77.58 544.50,80.00 C545.38,82.42 546.10,84.67 547.40,89.70 C548.70,94.73 550.88,104.37 552.30,110.20 C553.72,116.03 554.83,120.92 555.90,124.70 C556.97,128.48 557.45,133.88 558.70,132.90 C559.95,131.92 561.72,119.15 563.40,118.80 C565.08,118.45 567.02,130.92 568.80,130.80 C570.58,130.68 572.53,118.32 574.10,118.10 C575.67,117.88 577.13,128.85 578.20,129.50 C579.27,130.15 579.77,127.75 580.50,122.00 C581.23,116.25 581.85,105.00 582.60,95.00 C583.35,85.00 584.18,71.17 585.00,62.00 C585.82,52.83 586.70,44.87 587.50,40.00 C588.30,35.13 588.97,33.47 589.80,32.80 C590.63,32.13 591.47,33.47 592.50,36.00 C593.53,38.53 594.58,43.72 596.00,48.00 C597.42,52.28 599.50,56.37 601.00,61.70 C602.50,67.03 603.92,74.95 605.00,80.00 C606.08,85.05 606.48,86.85 607.50,92.00 C608.52,97.15 609.70,105.60 611.10,110.90 C612.50,116.20 613.90,120.18 615.90,123.80 C617.90,127.42 620.95,130.80 623.10,132.60 C625.25,134.40 626.98,135.70 628.80,134.60 C630.62,133.50 632.47,128.52 634.00,126.00 C635.53,123.48 636.83,121.17 638.00,119.50 C639.17,117.83 639.98,116.75 641.00,116.00 C642.02,115.25 642.77,114.75 644.10,115.00 C645.43,115.25 647.12,116.33 649.00,117.50 C650.88,118.67 653.27,121.17 655.40,122.00 C657.53,122.83 659.67,121.52 661.80,122.50 C663.93,123.48 666.23,126.28 668.20,127.90 C670.17,129.52 671.97,131.15 673.60,132.20 C675.23,133.25 677.27,133.87 678.00,134.20" fill="none" stroke="#4cbb6c" stroke-width="1.2" stroke-linejoin="round" stroke-linecap="round" />
<path d="M492.00,133.90 C492.67,134.35 494.43,136.60 496.00,136.60 C497.57,136.60 499.83,134.02 501.40,133.90 C502.97,133.78 504.07,136.80 505.40,135.90 C506.73,135.00 508.17,131.63 509.40,128.50 C510.63,125.37 511.67,121.35 512.80,117.10 C513.93,112.85 515.08,107.18 516.20,103.00 C517.32,98.82 518.52,96.03 519.50,92.00 C520.48,87.97 521.27,82.30 522.10,78.80 C522.93,75.30 523.70,72.73 524.50,71.00 C525.30,69.27 526.10,68.07 526.90,68.40 C527.70,68.73 528.50,70.87 529.30,73.00 C530.10,75.13 530.68,76.20 531.70,81.20 C532.72,86.20 534.38,96.55 535.40,103.00 C536.42,109.45 537.20,116.77 537.80,119.90 C538.40,123.03 538.00,122.62 539.00,121.80 C540.00,120.98 542.47,115.63 543.80,115.00 C545.13,114.37 545.73,116.92 547.00,118.00 C548.27,119.08 550.07,119.83 551.40,121.50 C552.73,123.17 553.78,125.88 555.00,128.00 C556.22,130.12 557.40,135.18 558.70,134.20 C560.00,133.22 561.75,124.55 562.80,122.10 C563.85,119.65 564.22,119.83 565.00,119.50 C565.78,119.17 566.50,121.35 567.50,120.10 C568.50,118.85 569.60,114.45 571.00,112.00 C572.40,109.55 574.40,104.90 575.90,105.40 C577.40,105.90 578.62,111.43 580.00,115.00 C581.38,118.57 582.87,125.80 584.20,126.80 C585.53,127.80 586.77,122.90 588.00,121.00 C589.23,119.10 590.27,115.23 591.60,115.40 C592.93,115.57 594.60,119.77 596.00,122.00 C597.40,124.23 598.57,127.22 600.00,128.80 C601.43,130.38 602.60,130.55 604.60,131.50 C606.60,132.45 609.43,133.83 612.00,134.50 C614.57,135.17 615.33,135.28 620.00,135.50 C624.67,135.72 633.33,135.68 640.00,135.80 C646.67,135.92 653.67,136.07 660.00,136.20 C666.33,136.33 675.00,136.53 678.00,136.60" fill="none" stroke="#b070f0" stroke-width="1.2" stroke-linejoin="round" stroke-linecap="round" />
<path d="M492.00,135.50 C492.67,135.72 494.67,136.73 496.00,136.80 C497.33,136.87 497.67,136.17 500.00,135.90 C502.33,135.63 507.50,135.53 510.00,135.20 C512.50,134.87 513.02,134.68 515.00,133.90 C516.98,133.12 519.90,130.50 521.90,130.50 C523.90,130.50 525.73,133.15 527.00,133.90 C528.27,134.65 528.40,135.23 529.50,135.00 C530.60,134.77 532.27,132.67 533.60,132.50 C534.93,132.33 536.27,134.42 537.50,134.00 C538.73,133.58 540.03,131.08 541.00,130.00 C541.97,128.92 542.47,127.33 543.30,127.50 C544.13,127.67 545.10,129.55 546.00,131.00 C546.90,132.45 547.95,136.70 548.70,136.20 C549.45,135.70 549.83,131.47 550.50,128.00 C551.17,124.53 551.55,121.73 552.70,115.40 C553.85,109.07 556.02,97.90 557.40,90.00 C558.78,82.10 559.62,73.35 561.00,68.00 C562.38,62.65 564.20,58.23 565.70,57.90 C567.20,57.57 568.60,60.65 570.00,66.00 C571.40,71.35 572.63,83.77 574.10,90.00 C575.57,96.23 576.90,100.05 578.80,103.40 C580.70,106.75 583.63,107.67 585.50,110.10 C587.37,112.53 588.65,115.10 590.00,118.00 C591.35,120.90 592.52,125.08 593.60,127.50 C594.68,129.92 595.47,131.20 596.50,132.50 C597.53,133.80 598.72,135.55 599.80,135.30 C600.88,135.05 601.92,132.17 603.00,131.00 C604.08,129.83 605.08,128.43 606.30,128.30 C607.52,128.17 609.02,131.58 610.30,130.20 C611.58,128.82 612.40,123.22 614.00,120.00 C615.60,116.78 618.23,110.90 619.90,110.90 C621.57,110.90 622.52,115.98 624.00,120.00 C625.48,124.02 627.13,134.17 628.80,135.00 C630.47,135.83 632.00,128.08 634.00,125.00 C636.00,121.92 638.80,116.67 640.80,116.50 C642.80,116.33 644.25,121.23 646.00,124.00 C647.75,126.77 649.75,131.93 651.30,133.10 C652.85,134.27 653.70,130.68 655.30,131.00 C656.90,131.32 658.95,135.33 660.90,135.00 C662.85,134.67 664.85,130.73 667.00,129.00 C669.15,127.27 671.97,125.00 673.80,124.60 C675.63,124.20 677.30,126.27 678.00,126.60" fill="none" stroke="#3a3a3a" stroke-width="1.2" stroke-linejoin="round" stroke-linecap="round" />
<path d="M492.00,133.90 C492.67,134.38 494.43,137.25 496.00,136.80 C497.57,136.35 499.83,131.23 501.40,131.20 C502.97,131.17 504.07,137.27 505.40,136.60 C506.73,135.93 508.17,130.22 509.40,127.20 C510.63,124.18 511.57,119.73 512.80,118.50 C514.03,117.27 515.65,122.78 516.80,119.80 C517.95,116.82 518.62,108.23 519.70,100.60 C520.78,92.97 522.25,80.60 523.30,74.00 C524.35,67.40 525.08,64.02 526.00,61.00 C526.92,57.98 527.97,55.90 528.80,55.90 C529.63,55.90 530.32,57.98 531.00,61.00 C531.68,64.02 532.17,67.82 532.90,74.00 C533.63,80.18 534.58,91.27 535.40,98.10 C536.22,104.93 537.12,110.97 537.80,115.00 C538.48,119.03 538.88,122.13 539.50,122.30 C540.12,122.47 540.67,118.02 541.50,116.00 C542.33,113.98 543.32,109.15 544.50,110.20 C545.68,111.25 547.30,118.67 548.60,122.30 C549.90,125.93 551.40,130.02 552.30,132.00 C553.20,133.98 553.05,134.87 554.00,134.20 C554.95,133.53 556.50,130.20 558.00,128.00 C559.50,125.80 561.08,123.13 563.00,121.00 C564.92,118.87 567.17,116.03 569.50,115.20 C571.83,114.37 574.55,115.73 577.00,116.00 C579.45,116.27 582.00,116.55 584.20,116.80 C586.40,117.05 588.40,116.88 590.20,117.50 C592.00,118.12 593.13,118.25 595.00,120.50 C596.87,122.75 599.25,130.18 601.40,131.00 C603.55,131.82 605.48,124.47 607.90,125.40 C610.32,126.33 613.88,135.20 615.90,136.60 C617.92,138.00 618.25,133.83 620.00,133.80 C621.75,133.77 624.62,136.32 626.40,136.40 C628.18,136.48 629.08,134.20 630.70,134.30 C632.32,134.40 634.05,137.35 636.10,137.00 C638.15,136.65 640.50,132.38 643.00,132.20 C645.50,132.02 649.22,135.47 651.10,135.90 C652.98,136.33 652.87,134.62 654.30,134.80 C655.73,134.98 657.92,137.35 659.70,137.00 C661.48,136.65 663.05,133.50 665.00,132.70 C666.95,131.90 669.23,131.88 671.40,132.20 C673.57,132.52 676.90,134.20 678.00,134.60" fill="none" stroke="#e8343c" stroke-width="1.2" stroke-linejoin="round" stroke-linecap="round" />
<line x1="491.60" y1="1.50" x2="491.60" y2="151.50" stroke="#3a3a3a" stroke-width="1.3" />
<line x1="490.90" y1="151.50" x2="678.90" y2="151.50" stroke="#222" stroke-width="1.2" />
<line x1="491.60" y1="1.50" x2="678.40" y2="1.50" stroke="#333" stroke-width="1.0" />
<line x1="678.40" y1="1.50" x2="678.40" y2="151.50" stroke="#333" stroke-width="1.1" />
<line x1="491.40" y1="151.50" x2="491.40" y2="154.60" stroke="#222" stroke-width="1.0" />
<line x1="553.60" y1="151.50" x2="553.60" y2="154.60" stroke="#222" stroke-width="1.0" />
<line x1="615.80" y1="151.50" x2="615.80" y2="154.60" stroke="#222" stroke-width="1.0" />
<line x1="678.00" y1="151.50" x2="678.00" y2="154.60" stroke="#222" stroke-width="1.0" />
<line x1="522.50" y1="151.50" x2="522.50" y2="153.50" stroke="#222" stroke-width="1.0" />
<line x1="584.70" y1="151.50" x2="584.70" y2="153.50" stroke="#222" stroke-width="1.0" />
<line x1="646.90" y1="151.50" x2="646.90" y2="153.50" stroke="#222" stroke-width="1.0" />
<text x="491.40" y="161.80" font-size="8.7" font-weight="bold" text-anchor="middle" fill="#111" >0</text>
<text x="553.60" y="161.80" font-size="8.7" font-weight="bold" text-anchor="middle" fill="#111" >2</text>
<text x="615.80" y="161.80" font-size="8.7" font-weight="bold" text-anchor="middle" fill="#111" >4</text>
<text x="678.00" y="161.80" font-size="8.7" font-weight="bold" text-anchor="middle" fill="#111" >6</text>
<text x="586.17" y="172.60" font-size="8.3" font-weight="bold" text-anchor="middle" fill="#111" letter-spacing="0.35" >R+&#945; (&#197;)</text>
<text x="480.50" y="75.70" font-size="8.9" font-weight="bold" text-anchor="middle" fill="#111" transform="rotate(-90 480.5 75.7)">FT(k<tspan font-size="6" dy="-3">3</tspan><tspan dy="3">&#967;(k))</tspan></text>
<line x1="506.10" y1="11.50" x2="518.50" y2="11.50" stroke="#e8343c" stroke-width="1.15" />
<text x="520.70" y="15.20" font-size="9.8" font-weight="bold" text-anchor="start" fill="#111" letter-spacing="0.35" >0.5%MoO<tspan font-size="5.1" dy="2.3">x</tspan><tspan dy="-2.3">&#8203;</tspan>-TiO<tspan font-size="5.1" dy="2.3">2</tspan><tspan dy="-2.3">&#8203;</tspan></text>
<line x1="506.10" y1="22.50" x2="518.50" y2="22.50" stroke="#b070f0" stroke-width="1.15" />
<text x="520.70" y="26.50" font-size="9.8" font-weight="bold" text-anchor="start" fill="#111" letter-spacing="0.35" >Na<tspan font-size="5.1" dy="2.3">2</tspan><tspan dy="-2.3">&#8203;</tspan>MoO<tspan font-size="5.1" dy="2.3">4</tspan><tspan dy="-2.3">&#8203;</tspan></text>
<line x1="506.10" y1="34.50" x2="518.50" y2="34.50" stroke="#4cbb6c" stroke-width="1.15" />
<text x="520.70" y="38.00" font-size="9.8" font-weight="bold" text-anchor="start" fill="#111" letter-spacing="0.35" >MoO<tspan font-size="5.1" dy="2.3">3</tspan><tspan dy="-2.3">&#8203;</tspan></text>
<line x1="506.10" y1="46.50" x2="518.50" y2="46.50" stroke="#3a3a3a" stroke-width="1.15" />
<text x="520.70" y="49.60" font-size="9.8" font-weight="bold" text-anchor="start" fill="#111" letter-spacing="0.35" >Mo foil</text>
<text x="6.40" y="210.10" font-size="13.5" font-weight="bold" text-anchor="middle" fill="#000" >d</text>
<path d="M20.1,332.9 L51.2,332.9 L51.2,216.4 L87.8,216.4 L87.8,332.9 L206.2,332.9" fill="none" stroke="#3d6fe8" stroke-width="1.1" stroke-linejoin="round" stroke-linecap="round" stroke-linecap="butt" stroke-linejoin="miter"/>
<path d="M20.20,331.40 C20.77,331.53 22.37,332.47 23.60,332.20 C24.83,331.93 26.25,330.52 27.60,329.80 C28.95,329.08 30.48,328.43 31.70,327.90 C32.92,327.37 33.97,327.88 34.90,326.60 C35.83,325.32 36.37,322.75 37.30,320.20 C38.23,317.65 39.43,313.85 40.50,311.30 C41.57,308.75 42.63,307.43 43.70,304.90 C44.77,302.37 46.10,299.18 46.90,296.10 C47.70,293.02 48.07,289.42 48.50,286.40 C48.93,283.38 49.08,282.07 49.50,278.00 C49.92,273.93 50.50,267.33 51.00,262.00 C51.50,256.67 52.00,250.83 52.50,246.00 C53.00,241.17 53.50,236.50 54.00,233.00 C54.50,229.50 54.97,226.87 55.50,225.00 C56.03,223.13 56.65,221.97 57.20,221.80 C57.75,221.63 58.25,221.63 58.80,224.00 C59.35,226.37 59.97,231.00 60.50,236.00 C61.03,241.00 61.47,246.67 62.00,254.00 C62.53,261.33 63.03,270.32 63.70,280.00 C64.37,289.68 65.35,305.00 66.00,312.10 C66.65,319.20 66.85,323.40 67.60,322.60 C68.35,321.80 69.62,311.23 70.50,307.30 C71.38,303.37 72.10,299.80 72.90,299.00 C73.70,298.20 74.37,299.52 75.30,302.50 C76.23,305.48 77.57,312.48 78.50,316.90 C79.43,321.32 80.10,327.38 80.90,329.00 C81.70,330.62 82.50,327.67 83.30,326.60 C84.10,325.53 84.92,323.15 85.70,322.60 C86.48,322.05 87.42,322.77 88.00,323.30 C88.58,323.83 88.50,324.48 89.20,325.80 C89.90,327.12 90.88,330.95 92.20,331.20 C93.52,331.45 95.48,327.20 97.10,327.30 C98.72,327.40 100.30,331.45 101.90,331.80 C103.50,332.15 105.10,329.30 106.70,329.40 C108.30,329.50 109.78,332.30 111.50,332.40 C113.22,332.50 115.18,329.97 117.00,330.00 C118.82,330.03 120.30,332.40 122.40,332.60 C124.50,332.80 127.38,331.23 129.60,331.20 C131.82,331.17 133.63,332.23 135.70,332.40 C137.77,332.57 139.62,332.15 142.00,332.20 C144.38,332.25 147.00,332.60 150.00,332.70 C153.00,332.80 150.67,332.75 160.00,332.80 C169.33,332.85 198.33,332.97 206.00,333.00" fill="none" stroke="#e8343c" stroke-width="1.1" stroke-linejoin="round" stroke-linecap="round" />
<g fill="none" stroke="#383838" stroke-width="0.8"><circle cx="20.60" cy="328.21" r="1.5"/><circle cx="21.62" cy="330.12" r="1.5"/><circle cx="22.64" cy="331.37" r="1.5"/><circle cx="23.66" cy="330.94" r="1.5"/><circle cx="24.68" cy="329.82" r="1.5"/><circle cx="25.70" cy="328.28" r="1.5"/><circle cx="26.72" cy="326.69" r="1.5"/><circle cx="27.74" cy="325.59" r="1.5"/><circle cx="28.76" cy="324.80" r="1.5"/><circle cx="29.78" cy="324.94" r="1.5"/><circle cx="30.80" cy="326.08" r="1.5"/><circle cx="31.82" cy="327.80" r="1.5"/><circle cx="32.84" cy="330.29" r="1.5"/><circle cx="33.86" cy="330.73" r="1.5"/><circle cx="34.88" cy="327.95" r="1.5"/><circle cx="35.90" cy="324.30" r="1.5"/><circle cx="36.92" cy="319.95" r="1.5"/><circle cx="37.94" cy="315.55" r="1.5"/><circle cx="38.96" cy="311.08" r="1.5"/><circle cx="39.98" cy="308.41" r="1.5"/><circle cx="41.00" cy="306.90" r="1.5"/><circle cx="42.02" cy="306.20" r="1.5"/><circle cx="43.04" cy="307.06" r="1.5"/><circle cx="44.06" cy="308.41" r="1.5"/><circle cx="45.08" cy="309.64" r="1.5"/><circle cx="46.10" cy="308.24" r="1.5"/><circle cx="47.12" cy="304.54" r="1.5"/><circle cx="48.14" cy="298.48" r="1.5"/><circle cx="49.16" cy="285.21" r="1.5"/><circle cx="50.18" cy="274.91" r="1.5"/><circle cx="51.20" cy="264.08" r="1.5"/><circle cx="52.22" cy="252.78" r="1.5"/><circle cx="53.24" cy="241.62" r="1.5"/><circle cx="54.26" cy="234.72" r="1.5"/><circle cx="55.28" cy="226.96" r="1.5"/><circle cx="56.30" cy="222.23" r="1.5"/><circle cx="57.32" cy="221.72" r="1.5"/><circle cx="58.34" cy="223.60" r="1.5"/><circle cx="59.36" cy="228.91" r="1.5"/><circle cx="60.38" cy="238.15" r="1.5"/><circle cx="61.40" cy="249.10" r="1.5"/><circle cx="62.42" cy="262.41" r="1.5"/><circle cx="63.44" cy="277.26" r="1.5"/><circle cx="64.46" cy="295.07" r="1.5"/><circle cx="65.48" cy="309.50" r="1.5"/><circle cx="66.50" cy="319.15" r="1.5"/><circle cx="67.52" cy="323.07" r="1.5"/><circle cx="68.54" cy="316.59" r="1.5"/><circle cx="69.56" cy="309.09" r="1.5"/><circle cx="70.58" cy="302.82" r="1.5"/><circle cx="71.60" cy="297.10" r="1.5"/><circle cx="72.62" cy="295.86" r="1.5"/><circle cx="73.64" cy="295.70" r="1.5"/><circle cx="74.66" cy="297.02" r="1.5"/><circle cx="75.68" cy="301.28" r="1.5"/><circle cx="76.70" cy="307.66" r="1.5"/><circle cx="77.72" cy="314.31" r="1.5"/><circle cx="78.74" cy="319.10" r="1.5"/><circle cx="79.76" cy="324.85" r="1.5"/><circle cx="80.78" cy="328.19" r="1.5"/><circle cx="81.80" cy="328.74" r="1.5"/><circle cx="82.82" cy="326.73" r="1.5"/><circle cx="83.84" cy="324.99" r="1.5"/><circle cx="84.86" cy="323.47" r="1.5"/><circle cx="85.88" cy="321.45" r="1.5"/><circle cx="86.90" cy="319.97" r="1.5"/><circle cx="87.92" cy="318.91" r="1.5"/><circle cx="88.94" cy="317.86" r="1.5"/><circle cx="89.96" cy="316.43" r="1.5"/><circle cx="90.98" cy="314.00" r="1.5"/><circle cx="92.00" cy="311.03" r="1.5"/><circle cx="93.02" cy="308.41" r="1.5"/><circle cx="94.04" cy="306.71" r="1.5"/><circle cx="95.06" cy="305.27" r="1.5"/><circle cx="96.08" cy="304.13" r="1.5"/><circle cx="97.10" cy="303.40" r="1.5"/><circle cx="98.12" cy="302.95" r="1.5"/><circle cx="99.14" cy="302.58" r="1.5"/><circle cx="100.16" cy="302.31" r="1.5"/><circle cx="101.18" cy="302.20" r="1.5"/><circle cx="102.20" cy="302.26" r="1.5"/><circle cx="103.22" cy="302.43" r="1.5"/><circle cx="104.24" cy="302.69" r="1.5"/><circle cx="105.26" cy="302.99" r="1.5"/><circle cx="106.28" cy="303.29" r="1.5"/><circle cx="107.30" cy="303.58" r="1.5"/><circle cx="108.32" cy="303.97" r="1.5"/><circle cx="109.34" cy="304.40" r="1.5"/><circle cx="110.36" cy="304.80" r="1.5"/><circle cx="111.38" cy="305.12" r="1.5"/><circle cx="112.40" cy="305.29" r="1.5"/><circle cx="113.42" cy="305.28" r="1.5"/><circle cx="114.44" cy="305.18" r="1.5"/><circle cx="115.46" cy="305.06" r="1.5"/><circle cx="116.48" cy="304.95" r="1.5"/><circle cx="117.50" cy="304.90" r="1.5"/><circle cx="118.52" cy="305.09" r="1.5"/><circle cx="119.54" cy="305.67" r="1.5"/><circle cx="120.56" cy="306.47" r="1.5"/><circle cx="121.58" cy="307.89" r="1.5"/><circle cx="122.60" cy="310.13" r="1.5"/><circle cx="123.62" cy="312.55" r="1.5"/><circle cx="124.64" cy="315.27" r="1.5"/><circle cx="125.66" cy="318.20" r="1.5"/><circle cx="126.68" cy="320.43" r="1.5"/><circle cx="127.70" cy="322.17" r="1.5"/><circle cx="128.72" cy="323.54" r="1.5"/><circle cx="129.74" cy="323.98" r="1.5"/><circle cx="130.76" cy="323.10" r="1.5"/><circle cx="131.78" cy="321.50" r="1.5"/><circle cx="132.80" cy="320.05" r="1.5"/><circle cx="133.82" cy="318.53" r="1.5"/><circle cx="134.84" cy="317.17" r="1.5"/><circle cx="135.86" cy="316.71" r="1.5"/><circle cx="136.88" cy="317.18" r="1.5"/><circle cx="137.90" cy="318.16" r="1.5"/><circle cx="138.92" cy="319.41" r="1.5"/><circle cx="139.94" cy="321.72" r="1.5"/><circle cx="140.96" cy="324.60" r="1.5"/><circle cx="141.98" cy="327.00" r="1.5"/><circle cx="143.00" cy="329.31" r="1.5"/><circle cx="144.02" cy="330.59" r="1.5"/><circle cx="145.04" cy="330.36" r="1.5"/><circle cx="146.06" cy="329.73" r="1.5"/><circle cx="147.08" cy="328.97" r="1.5"/><circle cx="148.10" cy="328.38" r="1.5"/><circle cx="149.12" cy="328.22" r="1.5"/><circle cx="150.14" cy="328.68" r="1.5"/><circle cx="151.16" cy="329.53" r="1.5"/><circle cx="152.18" cy="330.43" r="1.5"/><circle cx="153.20" cy="331.08" r="1.5"/><circle cx="154.22" cy="331.15" r="1.5"/><circle cx="155.24" cy="330.68" r="1.5"/><circle cx="156.26" cy="329.96" r="1.5"/><circle cx="157.28" cy="329.24" r="1.5"/><circle cx="158.30" cy="328.83" r="1.5"/><circle cx="159.32" cy="329.05" r="1.5"/><circle cx="160.34" cy="329.96" r="1.5"/><circle cx="161.36" cy="330.90" r="1.5"/><circle cx="162.38" cy="331.64" r="1.5"/><circle cx="163.40" cy="332.23" r="1.5"/><circle cx="164.42" cy="332.13" r="1.5"/><circle cx="165.44" cy="331.27" r="1.5"/><circle cx="166.46" cy="330.09" r="1.5"/><circle cx="167.48" cy="329.02" r="1.5"/><circle cx="168.50" cy="328.03" r="1.5"/><circle cx="169.52" cy="326.99" r="1.5"/><circle cx="170.54" cy="326.21" r="1.5"/><circle cx="171.56" cy="326.02" r="1.5"/><circle cx="172.58" cy="326.50" r="1.5"/><circle cx="173.60" cy="327.34" r="1.5"/><circle cx="174.62" cy="328.22" r="1.5"/><circle cx="175.64" cy="328.98" r="1.5"/><circle cx="176.66" cy="329.87" r="1.5"/><circle cx="177.68" cy="330.63" r="1.5"/><circle cx="178.70" cy="331.00" r="1.5"/><circle cx="179.72" cy="330.84" r="1.5"/><circle cx="180.74" cy="330.54" r="1.5"/><circle cx="181.76" cy="330.41" r="1.5"/><circle cx="182.78" cy="330.32" r="1.5"/><circle cx="183.80" cy="330.35" r="1.5"/><circle cx="184.82" cy="331.04" r="1.5"/><circle cx="185.84" cy="331.67" r="1.5"/><circle cx="186.86" cy="332.13" r="1.5"/><circle cx="187.88" cy="332.12" r="1.5"/><circle cx="188.90" cy="331.69" r="1.5"/><circle cx="189.92" cy="331.00" r="1.5"/><circle cx="190.94" cy="330.23" r="1.5"/><circle cx="191.96" cy="329.52" r="1.5"/><circle cx="192.98" cy="328.82" r="1.5"/><circle cx="194.00" cy="327.99" r="1.5"/><circle cx="195.02" cy="327.16" r="1.5"/><circle cx="196.04" cy="326.48" r="1.5"/><circle cx="197.06" cy="326.06" r="1.5"/><circle cx="198.08" cy="326.03" r="1.5"/><circle cx="199.10" cy="326.26" r="1.5"/><circle cx="200.12" cy="326.65" r="1.5"/><circle cx="201.14" cy="327.12" r="1.5"/><circle cx="202.16" cy="327.57" r="1.5"/><circle cx="203.18" cy="328.07" r="1.5"/><circle cx="204.20" cy="328.65" r="1.5"/><circle cx="205.22" cy="329.26" r="1.5"/></g>
<line x1="20.10" y1="198.50" x2="20.10" y2="348.50" stroke="#858585" stroke-width="2.0" />
<line x1="19.40" y1="348.50" x2="206.70" y2="348.50" stroke="#6a6a6a" stroke-width="1.2" />
<line x1="20.10" y1="198.50" x2="206.20" y2="198.50" stroke="#333" stroke-width="1.0" />
<line x1="206.20" y1="198.50" x2="206.20" y2="348.50" stroke="#333" stroke-width="1.1" />
<line x1="20.00" y1="348.50" x2="20.00" y2="351.60" stroke="#222" stroke-width="1.0" />
<line x1="82.00" y1="348.50" x2="82.00" y2="351.60" stroke="#222" stroke-width="1.0" />
<line x1="144.00" y1="348.50" x2="144.00" y2="351.60" stroke="#222" stroke-width="1.0" />
<line x1="206.00" y1="348.50" x2="206.00" y2="351.60" stroke="#222" stroke-width="1.0" />
<line x1="51.00" y1="348.50" x2="51.00" y2="350.50" stroke="#222" stroke-width="1.0" />
<line x1="113.00" y1="348.50" x2="113.00" y2="350.50" stroke="#222" stroke-width="1.0" />
<line x1="175.00" y1="348.50" x2="175.00" y2="350.50" stroke="#222" stroke-width="1.0" />
<text x="20.00" y="359.20" font-size="8.7" font-weight="bold" text-anchor="middle" fill="#111" >0</text>
<text x="82.00" y="359.20" font-size="8.7" font-weight="bold" text-anchor="middle" fill="#111" >2</text>
<text x="144.00" y="359.20" font-size="8.7" font-weight="bold" text-anchor="middle" fill="#111" >4</text>
<text x="206.00" y="359.20" font-size="8.7" font-weight="bold" text-anchor="middle" fill="#111" >6</text>
<text x="113.17" y="370.00" font-size="8.3" font-weight="bold" text-anchor="middle" fill="#111" letter-spacing="0.35" >R+&#945; (&#197;)</text>
<text x="8.90" y="273.50" font-size="8.9" font-weight="bold" text-anchor="middle" fill="#111" transform="rotate(-90 8.9 273.5)">FT(k<tspan font-size="6" dy="-3">3</tspan><tspan dy="3">&#967;(k))</tspan></text>
<circle cx="112.9" cy="208.2" r="1.5" fill="none" stroke="#3c3c3c" stroke-width="0.8"/>
<text x="124.70" y="211.80" font-size="9.8" font-weight="bold" text-anchor="start" fill="#111" letter-spacing="0.35" >0.5%MoO<tspan font-size="5.1" dy="2.3">x</tspan><tspan dy="-2.3">&#8203;</tspan>-TiO<tspan font-size="5.1" dy="2.3">2</tspan><tspan dy="-2.3">&#8203;</tspan></text>
<line x1="106.50" y1="218.70" x2="119.10" y2="218.70" stroke="#e8343c" stroke-width="1.1" />
<text x="123.40" y="222.30" font-size="9.8" font-weight="bold" text-anchor="start" fill="#111" letter-spacing="0.35" >Fitting</text>
<line x1="106.50" y1="230.40" x2="119.10" y2="230.40" stroke="#3d6fe8" stroke-width="1.1" />
<text x="123.40" y="234.00" font-size="9.8" font-weight="bold" text-anchor="start" fill="#111" letter-spacing="0.35" >Fitting range</text>
<g stroke-linecap="butt"><line x1="134.30" y1="245.90" x2="142.40" y2="245.90" stroke="#e62222" stroke-width="1.7"/><line x1="142.40" y1="245.90" x2="150.50" y2="245.90" stroke="#8a8a8a" stroke-width="2.1"/><line x1="142.40" y1="245.90" x2="150.50" y2="245.90" stroke="#ececec" stroke-width="1.0"/><line x1="150.50" y1="245.90" x2="158.40" y2="245.90" stroke="#8a8a8a" stroke-width="2.1"/><line x1="150.50" y1="245.90" x2="158.40" y2="245.90" stroke="#ececec" stroke-width="1.0"/><line x1="158.40" y1="245.90" x2="166.30" y2="245.90" stroke="#e62222" stroke-width="1.7"/><line x1="166.30" y1="245.90" x2="174.15" y2="245.90" stroke="#e62222" stroke-width="1.7"/><line x1="174.15" y1="245.90" x2="182.00" y2="245.90" stroke="#8a8a8a" stroke-width="2.1"/><line x1="174.15" y1="245.90" x2="182.00" y2="245.90" stroke="#ececec" stroke-width="1.0"/><line x1="182.00" y1="245.90" x2="190.15" y2="245.90" stroke="#8a8a8a" stroke-width="2.1"/><line x1="182.00" y1="245.90" x2="190.15" y2="245.90" stroke="#ececec" stroke-width="1.0"/><line x1="190.15" y1="245.90" x2="198.30" y2="245.90" stroke="#e62222" stroke-width="1.7"/><line x1="134.30" y1="262.20" x2="142.40" y2="262.20" stroke="#8a8a8a" stroke-width="2.1"/><line x1="134.30" y1="262.20" x2="142.40" y2="262.20" stroke="#ececec" stroke-width="1.0"/><line x1="142.40" y1="262.20" x2="150.50" y2="262.20" stroke="#e62222" stroke-width="1.7"/><line x1="150.50" y1="262.20" x2="158.40" y2="262.20" stroke="#e62222" stroke-width="1.7"/><line x1="158.40" y1="262.20" x2="166.30" y2="262.20" stroke="#8a8a8a" stroke-width="2.1"/><line x1="158.40" y1="262.20" x2="166.30" y2="262.20" stroke="#ececec" stroke-width="1.0"/><line x1="166.30" y1="262.20" x2="174.15" y2="262.20" stroke="#8a8a8a" stroke-width="2.1"/><line x1="166.30" y1="262.20" x2="174.15" y2="262.20" stroke="#ececec" stroke-width="1.0"/><line x1="174.15" y1="262.20" x2="182.00" y2="262.20" stroke="#e62222" stroke-width="1.7"/><line x1="182.00" y1="262.20" x2="190.15" y2="262.20" stroke="#e62222" stroke-width="1.7"/><line x1="190.15" y1="262.20" x2="198.30" y2="262.20" stroke="#8a8a8a" stroke-width="2.1"/><line x1="190.15" y1="262.20" x2="198.30" y2="262.20" stroke="#ececec" stroke-width="1.0"/><line x1="134.30" y1="277.90" x2="142.40" y2="277.90" stroke="#e62222" stroke-width="1.7"/><line x1="142.40" y1="277.90" x2="150.50" y2="277.90" stroke="#8a8a8a" stroke-width="2.1"/><line x1="142.40" y1="277.90" x2="150.50" y2="277.90" stroke="#ececec" stroke-width="1.0"/><line x1="150.50" y1="277.90" x2="158.40" y2="277.90" stroke="#8a8a8a" stroke-width="2.1"/><line x1="150.50" y1="277.90" x2="158.40" y2="277.90" stroke="#ececec" stroke-width="1.0"/><line x1="158.40" y1="277.90" x2="166.30" y2="277.90" stroke="#e62222" stroke-width="1.7"/><line x1="166.30" y1="277.90" x2="174.15" y2="277.90" stroke="#e62222" stroke-width="1.7"/><line x1="174.15" y1="277.90" x2="182.00" y2="277.90" stroke="#8a8a8a" stroke-width="2.1"/><line x1="174.15" y1="277.90" x2="182.00" y2="277.90" stroke="#ececec" stroke-width="1.0"/><line x1="182.00" y1="277.90" x2="190.15" y2="277.90" stroke="#8a8a8a" stroke-width="2.1"/><line x1="182.00" y1="277.90" x2="190.15" y2="277.90" stroke="#ececec" stroke-width="1.0"/><line x1="190.15" y1="277.90" x2="198.30" y2="277.90" stroke="#e62222" stroke-width="1.7"/><line x1="134.30" y1="294.10" x2="142.40" y2="294.10" stroke="#8a8a8a" stroke-width="2.1"/><line x1="134.30" y1="294.10" x2="142.40" y2="294.10" stroke="#ececec" stroke-width="1.0"/><line x1="142.40" y1="294.10" x2="150.50" y2="294.10" stroke="#e62222" stroke-width="1.7"/><line x1="150.50" y1="294.10" x2="158.40" y2="294.10" stroke="#e62222" stroke-width="1.7"/><line x1="158.40" y1="294.10" x2="166.30" y2="294.10" stroke="#8a8a8a" stroke-width="2.1"/><line x1="158.40" y1="294.10" x2="166.30" y2="294.10" stroke="#ececec" stroke-width="1.0"/><line x1="166.30" y1="294.10" x2="174.15" y2="294.10" stroke="#8a8a8a" stroke-width="2.1"/><line x1="166.30" y1="294.10" x2="174.15" y2="294.10" stroke="#ececec" stroke-width="1.0"/><line x1="174.15" y1="294.10" x2="182.00" y2="294.10" stroke="#e62222" stroke-width="1.7"/><line x1="182.00" y1="294.10" x2="190.15" y2="294.10" stroke="#e62222" stroke-width="1.7"/><line x1="190.15" y1="294.10" x2="198.30" y2="294.10" stroke="#8a8a8a" stroke-width="2.1"/><line x1="190.15" y1="294.10" x2="198.30" y2="294.10" stroke="#ececec" stroke-width="1.0"/><line x1="134.30" y1="309.20" x2="142.40" y2="309.20" stroke="#e62222" stroke-width="1.7"/><line x1="142.40" y1="309.20" x2="150.50" y2="309.20" stroke="#8a8a8a" stroke-width="2.1"/><line x1="142.40" y1="309.20" x2="150.50" y2="309.20" stroke="#ececec" stroke-width="1.0"/><line x1="150.50" y1="309.20" x2="158.40" y2="309.20" stroke="#8a8a8a" stroke-width="2.1"/><line x1="150.50" y1="309.20" x2="158.40" y2="309.20" stroke="#ececec" stroke-width="1.0"/><line x1="158.40" y1="309.20" x2="166.30" y2="309.20" stroke="#e62222" stroke-width="1.7"/><line x1="166.30" y1="309.20" x2="174.15" y2="309.20" stroke="#e62222" stroke-width="1.7"/><line x1="174.15" y1="309.20" x2="182.00" y2="309.20" stroke="#8a8a8a" stroke-width="2.1"/><line x1="174.15" y1="309.20" x2="182.00" y2="309.20" stroke="#ececec" stroke-width="1.0"/><line x1="182.00" y1="309.20" x2="190.15" y2="309.20" stroke="#8a8a8a" stroke-width="2.1"/><line x1="182.00" y1="309.20" x2="190.15" y2="309.20" stroke="#ececec" stroke-width="1.0"/><line x1="190.15" y1="309.20" x2="198.30" y2="309.20" stroke="#e62222" stroke-width="1.7"/><line x1="134.30" y1="245.90" x2="134.30" y2="254.05" stroke="#8a8a8a" stroke-width="2.1"/><line x1="134.30" y1="245.90" x2="134.30" y2="254.05" stroke="#ececec" stroke-width="1.0"/><line x1="134.30" y1="254.05" x2="134.30" y2="262.20" stroke="#e62222" stroke-width="1.7"/><line x1="134.30" y1="262.20" x2="134.30" y2="270.05" stroke="#e62222" stroke-width="1.7"/><line x1="134.30" y1="270.05" x2="134.30" y2="277.90" stroke="#8a8a8a" stroke-width="2.1"/><line x1="134.30" y1="270.05" x2="134.30" y2="277.90" stroke="#ececec" stroke-width="1.0"/><line x1="134.30" y1="277.90" x2="134.30" y2="286.00" stroke="#8a8a8a" stroke-width="2.1"/><line x1="134.30" y1="277.90" x2="134.30" y2="286.00" stroke="#ececec" stroke-width="1.0"/><line x1="134.30" y1="286.00" x2="134.30" y2="294.10" stroke="#e62222" stroke-width="1.7"/><line x1="134.30" y1="294.10" x2="134.30" y2="301.65" stroke="#e62222" stroke-width="1.7"/><line x1="134.30" y1="301.65" x2="134.30" y2="309.20" stroke="#8a8a8a" stroke-width="2.1"/><line x1="134.30" y1="301.65" x2="134.30" y2="309.20" stroke="#ececec" stroke-width="1.0"/><line x1="150.50" y1="245.90" x2="150.50" y2="254.05" stroke="#e62222" stroke-width="1.7"/><line x1="150.50" y1="254.05" x2="150.50" y2="262.20" stroke="#8a8a8a" stroke-width="2.1"/><line x1="150.50" y1="254.05" x2="150.50" y2="262.20" stroke="#ececec" stroke-width="1.0"/><line x1="150.50" y1="262.20" x2="150.50" y2="270.05" stroke="#8a8a8a" stroke-width="2.1"/><line x1="150.50" y1="262.20" x2="150.50" y2="270.05" stroke="#ececec" stroke-width="1.0"/><line x1="150.50" y1="270.05" x2="150.50" y2="277.90" stroke="#e62222" stroke-width="1.7"/><line x1="150.50" y1="277.90" x2="150.50" y2="286.00" stroke="#e62222" stroke-width="1.7"/><line x1="150.50" y1="286.00" x2="150.50" y2="294.10" stroke="#8a8a8a" stroke-width="2.1"/><line x1="150.50" y1="286.00" x2="150.50" y2="294.10" stroke="#ececec" stroke-width="1.0"/><line x1="150.50" y1="294.10" x2="150.50" y2="301.65" stroke="#8a8a8a" stroke-width="2.1"/><line x1="150.50" y1="294.10" x2="150.50" y2="301.65" stroke="#ececec" stroke-width="1.0"/><line x1="150.50" y1="301.65" x2="150.50" y2="309.20" stroke="#e62222" stroke-width="1.7"/><line x1="166.30" y1="245.90" x2="166.30" y2="254.05" stroke="#8a8a8a" stroke-width="2.1"/><line x1="166.30" y1="245.90" x2="166.30" y2="254.05" stroke="#ececec" stroke-width="1.0"/><line x1="166.30" y1="254.05" x2="166.30" y2="262.20" stroke="#e62222" stroke-width="1.7"/><line x1="166.30" y1="262.20" x2="166.30" y2="270.05" stroke="#e62222" stroke-width="1.7"/><line x1="166.30" y1="270.05" x2="166.30" y2="277.90" stroke="#8a8a8a" stroke-width="2.1"/><line x1="166.30" y1="270.05" x2="166.30" y2="277.90" stroke="#ececec" stroke-width="1.0"/><line x1="166.30" y1="277.90" x2="166.30" y2="286.00" stroke="#8a8a8a" stroke-width="2.1"/><line x1="166.30" y1="277.90" x2="166.30" y2="286.00" stroke="#ececec" stroke-width="1.0"/><line x1="166.30" y1="286.00" x2="166.30" y2="294.10" stroke="#e62222" stroke-width="1.7"/><line x1="166.30" y1="294.10" x2="166.30" y2="301.65" stroke="#e62222" stroke-width="1.7"/><line x1="166.30" y1="301.65" x2="166.30" y2="309.20" stroke="#8a8a8a" stroke-width="2.1"/><line x1="166.30" y1="301.65" x2="166.30" y2="309.20" stroke="#ececec" stroke-width="1.0"/><line x1="182.00" y1="245.90" x2="182.00" y2="254.05" stroke="#e62222" stroke-width="1.7"/><line x1="182.00" y1="254.05" x2="182.00" y2="262.20" stroke="#8a8a8a" stroke-width="2.1"/><line x1="182.00" y1="254.05" x2="182.00" y2="262.20" stroke="#ececec" stroke-width="1.0"/><line x1="182.00" y1="262.20" x2="182.00" y2="270.05" stroke="#8a8a8a" stroke-width="2.1"/><line x1="182.00" y1="262.20" x2="182.00" y2="270.05" stroke="#ececec" stroke-width="1.0"/><line x1="182.00" y1="270.05" x2="182.00" y2="277.90" stroke="#e62222" stroke-width="1.7"/><line x1="182.00" y1="277.90" x2="182.00" y2="286.00" stroke="#e62222" stroke-width="1.7"/><line x1="182.00" y1="286.00" x2="182.00" y2="294.10" stroke="#8a8a8a" stroke-width="2.1"/><line x1="182.00" y1="286.00" x2="182.00" y2="294.10" stroke="#ececec" stroke-width="1.0"/><line x1="182.00" y1="294.10" x2="182.00" y2="301.65" stroke="#8a8a8a" stroke-width="2.1"/><line x1="182.00" y1="294.10" x2="182.00" y2="301.65" stroke="#ececec" stroke-width="1.0"/><line x1="182.00" y1="301.65" x2="182.00" y2="309.20" stroke="#e62222" stroke-width="1.7"/><line x1="198.30" y1="245.90" x2="198.30" y2="254.05" stroke="#8a8a8a" stroke-width="2.1"/><line x1="198.30" y1="245.90" x2="198.30" y2="254.05" stroke="#ececec" stroke-width="1.0"/><line x1="198.30" y1="254.05" x2="198.30" y2="262.20" stroke="#e62222" stroke-width="1.7"/><line x1="198.30" y1="262.20" x2="198.30" y2="270.05" stroke="#e62222" stroke-width="1.7"/><line x1="198.30" y1="270.05" x2="198.30" y2="277.90" stroke="#8a8a8a" stroke-width="2.1"/><line x1="198.30" y1="270.05" x2="198.30" y2="277.90" stroke="#ececec" stroke-width="1.0"/><line x1="198.30" y1="277.90" x2="198.30" y2="286.00" stroke="#8a8a8a" stroke-width="2.1"/><line x1="198.30" y1="277.90" x2="198.30" y2="286.00" stroke="#ececec" stroke-width="1.0"/><line x1="198.30" y1="286.00" x2="198.30" y2="294.10" stroke="#e62222" stroke-width="1.7"/><line x1="198.30" y1="294.10" x2="198.30" y2="301.65" stroke="#e62222" stroke-width="1.7"/><line x1="198.30" y1="301.65" x2="198.30" y2="309.20" stroke="#8a8a8a" stroke-width="2.1"/><line x1="198.30" y1="301.65" x2="198.30" y2="309.20" stroke="#ececec" stroke-width="1.0"/></g>
<defs><radialGradient id="gO" cx="0.38" cy="0.35" r="0.7"><stop offset="0" stop-color="#ff7a70"/><stop offset="0.45" stop-color="#ee1a1a"/><stop offset="1" stop-color="#b00000"/></radialGradient><radialGradient id="gM" cx="0.38" cy="0.35" r="0.7"><stop offset="0" stop-color="#a8e4dc"/><stop offset="0.5" stop-color="#5cb8ad"/><stop offset="1" stop-color="#3a8a80"/></radialGradient></defs>
<g><line x1="152.60" y1="261.80" x2="152.60" y2="253.70" stroke="#5cb8ad" stroke-width="2.2"/><line x1="152.60" y1="253.70" x2="152.60" y2="245.60" stroke="#e62222" stroke-width="2.2"/><line x1="152.60" y1="261.80" x2="153.00" y2="269.80" stroke="#5cb8ad" stroke-width="2.2"/><line x1="153.00" y1="269.80" x2="153.40" y2="277.80" stroke="#e62222" stroke-width="2.2"/><line x1="152.60" y1="261.80" x2="147.10" y2="262.00" stroke="#5cb8ad" stroke-width="2.2"/><line x1="147.10" y1="262.00" x2="141.60" y2="262.20" stroke="#e62222" stroke-width="2.2"/><line x1="152.60" y1="261.80" x2="159.50" y2="262.00" stroke="#5cb8ad" stroke-width="2.2"/><line x1="159.50" y1="262.00" x2="166.40" y2="262.20" stroke="#e62222" stroke-width="2.2"/><line x1="181.50" y1="261.90" x2="181.50" y2="253.80" stroke="#5cb8ad" stroke-width="2.2"/><line x1="181.50" y1="253.80" x2="181.50" y2="245.70" stroke="#e62222" stroke-width="2.2"/><line x1="181.50" y1="261.90" x2="181.90" y2="269.90" stroke="#5cb8ad" stroke-width="2.2"/><line x1="181.90" y1="269.90" x2="182.30" y2="277.90" stroke="#e62222" stroke-width="2.2"/><line x1="181.50" y1="261.90" x2="176.00" y2="262.10" stroke="#5cb8ad" stroke-width="2.2"/><line x1="176.00" y1="262.10" x2="170.50" y2="262.30" stroke="#e62222" stroke-width="2.2"/><line x1="181.50" y1="261.90" x2="188.40" y2="262.10" stroke="#5cb8ad" stroke-width="2.2"/><line x1="188.40" y1="262.10" x2="195.30" y2="262.30" stroke="#e62222" stroke-width="2.2"/><line x1="152.10" y1="294.10" x2="152.10" y2="286.00" stroke="#5cb8ad" stroke-width="2.2"/><line x1="152.10" y1="286.00" x2="152.10" y2="277.90" stroke="#e62222" stroke-width="2.2"/><line x1="152.10" y1="294.10" x2="152.50" y2="302.10" stroke="#5cb8ad" stroke-width="2.2"/><line x1="152.50" y1="302.10" x2="152.90" y2="310.10" stroke="#e62222" stroke-width="2.2"/><line x1="152.10" y1="294.10" x2="146.60" y2="294.30" stroke="#5cb8ad" stroke-width="2.2"/><line x1="146.60" y1="294.30" x2="141.10" y2="294.50" stroke="#e62222" stroke-width="2.2"/><line x1="152.10" y1="294.10" x2="159.00" y2="294.30" stroke="#5cb8ad" stroke-width="2.2"/><line x1="159.00" y1="294.30" x2="165.90" y2="294.50" stroke="#e62222" stroke-width="2.2"/><line x1="181.60" y1="294.10" x2="181.60" y2="286.00" stroke="#5cb8ad" stroke-width="2.2"/><line x1="181.60" y1="286.00" x2="181.60" y2="277.90" stroke="#e62222" stroke-width="2.2"/><line x1="181.60" y1="294.10" x2="182.00" y2="302.10" stroke="#5cb8ad" stroke-width="2.2"/><line x1="182.00" y1="302.10" x2="182.40" y2="310.10" stroke="#e62222" stroke-width="2.2"/><line x1="181.60" y1="294.10" x2="176.10" y2="294.30" stroke="#5cb8ad" stroke-width="2.2"/><line x1="176.10" y1="294.30" x2="170.60" y2="294.50" stroke="#e62222" stroke-width="2.2"/><line x1="181.60" y1="294.10" x2="188.50" y2="294.30" stroke="#5cb8ad" stroke-width="2.2"/><line x1="188.50" y1="294.30" x2="195.40" y2="294.50" stroke="#e62222" stroke-width="2.2"/></g>
<circle cx="152.6" cy="261.8" r="2.8" fill="url(#gM)"/>
<circle cx="181.5" cy="261.9" r="2.8" fill="url(#gM)"/>
<circle cx="152.1" cy="294.1" r="2.8" fill="url(#gM)"/>
<circle cx="181.6" cy="294.1" r="2.8" fill="url(#gM)"/>
<circle cx="141.6" cy="262.3" r="2.8" fill="url(#gO)"/>
<circle cx="166.4" cy="262.3" r="2.8" fill="url(#gO)"/>
<circle cx="191.8" cy="262.3" r="2.8" fill="url(#gO)"/>
<circle cx="153.5" cy="277.6" r="2.8" fill="url(#gO)"/>
<circle cx="181.0" cy="277.9" r="2.8" fill="url(#gO)"/>
<circle cx="141.3" cy="294.1" r="2.8" fill="url(#gO)"/>
<circle cx="166.7" cy="294.1" r="2.8" fill="url(#gO)"/>
<circle cx="192.1" cy="294.1" r="2.8" fill="url(#gO)"/>
<text x="144.60" y="290.50" font-size="6.8" font-weight="bold" text-anchor="middle" fill="#000" >O</text>
<text x="170.00" y="291.20" font-size="6.8" font-weight="bold" text-anchor="middle" fill="#000" >O</text>
<text x="194.00" y="290.50" font-size="6.8" font-weight="bold" text-anchor="middle" fill="#000" >O</text>
<text x="158.60" y="302.20" font-size="7.3" font-weight="bold" text-anchor="middle" fill="#000" >Mo</text>
<text x="188.30" y="302.20" font-size="7.3" font-weight="bold" text-anchor="middle" fill="#000" >Mo</text>
<text x="241.40" y="208.80" font-size="13.5" font-weight="bold" text-anchor="middle" fill="#000" >e</text>
<path d="M255.60,236.91 C255.73,236.88 256.13,236.85 256.40,236.70 C256.67,236.54 256.93,236.22 257.20,235.99 C257.47,235.77 257.73,235.55 258.00,235.33 C258.27,235.11 258.53,234.83 258.80,234.69 C259.07,234.55 259.33,234.59 259.60,234.49 C259.87,234.39 260.13,234.28 260.40,234.12 C260.67,233.95 260.93,233.63 261.20,233.51 C261.47,233.39 261.73,233.51 262.00,233.41 C262.27,233.31 262.53,232.87 262.80,232.89 C263.07,232.92 263.33,233.42 263.60,233.56 C263.87,233.69 264.13,233.58 264.40,233.70 C264.67,233.83 264.93,234.17 265.20,234.32 C265.47,234.47 265.73,234.55 266.00,234.60 C266.27,234.66 266.53,234.62 266.80,234.65 C267.07,234.68 267.33,234.61 267.60,234.79 C267.87,234.96 268.13,235.59 268.40,235.70 C268.67,235.81 268.93,235.39 269.20,235.44 C269.47,235.49 269.73,235.85 270.00,235.98 C270.27,236.11 270.53,236.12 270.80,236.20 C271.07,236.29 271.33,236.34 271.60,236.49 C271.87,236.65 272.13,236.94 272.40,237.12 C272.67,237.30 272.93,237.55 273.20,237.58 C273.47,237.62 273.73,237.29 274.00,237.33 C274.27,237.38 274.53,237.76 274.80,237.84 C275.07,237.93 275.33,237.77 275.60,237.84 C275.87,237.90 276.13,238.16 276.40,238.24 C276.67,238.31 276.93,238.30 277.20,238.30 C277.47,238.30 277.73,238.26 278.00,238.25 C278.27,238.24 278.53,238.28 278.80,238.24 C279.07,238.21 279.33,238.07 279.60,238.05 C279.87,238.04 280.13,238.26 280.40,238.15 C280.67,238.04 280.93,237.64 281.20,237.41 C281.47,237.19 281.73,236.90 282.00,236.80 C282.27,236.71 282.53,236.92 282.80,236.86 C283.07,236.79 283.33,236.64 283.60,236.42 C283.87,236.20 284.13,235.80 284.40,235.56 C284.67,235.32 284.93,235.10 285.20,234.99 C285.47,234.87 285.73,234.91 286.00,234.88 C286.27,234.86 286.53,234.81 286.80,234.85 C287.07,234.89 287.33,235.08 287.60,235.12 C287.87,235.16 288.13,235.04 288.40,235.09 C288.67,235.13 288.93,235.29 289.20,235.38 C289.47,235.47 289.73,235.50 290.00,235.62 C290.27,235.73 290.53,235.90 290.80,236.08 C291.07,236.26 291.33,236.52 291.60,236.71 C291.87,236.89 292.13,237.04 292.40,237.20 C292.67,237.36 292.93,237.46 293.20,237.67 C293.47,237.88 293.73,238.16 294.00,238.44 C294.27,238.72 294.53,239.07 294.80,239.38 C295.07,239.68 295.33,239.95 295.60,240.28 C295.87,240.62 296.13,241.03 296.40,241.38 C296.67,241.74 296.93,242.00 297.20,242.41 C297.47,242.82 297.73,243.30 298.00,243.84 C298.27,244.39 298.53,245.23 298.80,245.69 C299.07,246.14 299.33,246.12 299.60,246.58 C299.87,247.04 300.13,247.83 300.40,248.44 C300.67,249.05 300.93,249.61 301.20,250.25 C301.47,250.88 301.73,251.65 302.00,252.25 C302.27,252.86 302.53,253.21 302.80,253.87 C303.07,254.53 303.33,255.42 303.60,256.22 C303.87,257.02 304.13,257.83 304.40,258.67 C304.67,259.52 304.93,260.44 305.20,261.29 C305.47,262.13 305.20,260.65 306.00,263.77 C306.80,266.88 308.65,274.58 310.00,280.00 C311.35,285.42 312.77,291.30 314.10,296.30 C315.43,301.30 316.65,305.98 318.00,310.00 C319.35,314.02 320.62,317.32 322.20,320.40 C323.78,323.48 325.38,326.52 327.50,328.50 C329.62,330.48 330.67,331.88 334.90,332.30 C339.13,332.72 344.60,331.47 352.90,331.00 C361.20,330.53 374.82,330.00 384.70,329.50 C394.58,329.00 405.15,328.52 412.20,328.00 C419.25,327.48 422.03,327.10 427.00,326.40 C431.97,325.70 439.50,324.23 442.00,323.80" fill="none" stroke="#4cbb6c" stroke-width="1.35" stroke-linejoin="round" stroke-linecap="round" />
<path d="M255.60,211.87 C255.73,211.52 256.13,210.46 256.40,209.78 C256.67,209.10 256.93,208.44 257.20,207.77 C257.47,207.09 257.73,206.24 258.00,205.71 C258.27,205.19 258.53,204.90 258.80,204.61 C259.07,204.32 259.33,204.22 259.60,203.98 C259.87,203.75 260.13,203.49 260.40,203.20 C260.67,202.91 260.93,202.46 261.20,202.23 C261.47,202.00 261.73,201.98 262.00,201.82 C262.27,201.66 262.53,201.34 262.80,201.27 C263.07,201.20 263.33,201.34 263.60,201.41 C263.87,201.47 264.13,201.62 264.40,201.64 C264.67,201.66 264.93,201.54 265.20,201.51 C265.47,201.48 265.73,201.47 266.00,201.47 C266.27,201.47 266.53,201.57 266.80,201.50 C267.07,201.43 267.33,201.14 267.60,201.05 C267.87,200.96 268.13,200.97 268.40,200.97 C268.67,200.96 268.93,200.97 269.20,201.02 C269.47,201.07 269.73,201.21 270.00,201.27 C270.27,201.34 270.53,201.36 270.80,201.41 C271.07,201.47 271.33,201.60 271.60,201.62 C271.87,201.64 272.13,201.55 272.40,201.54 C272.67,201.53 272.93,201.52 273.20,201.54 C273.47,201.56 273.73,201.65 274.00,201.64 C274.27,201.63 274.53,201.50 274.80,201.47 C275.07,201.45 275.33,201.57 275.60,201.51 C275.87,201.46 276.13,201.14 276.40,201.13 C276.67,201.12 276.93,201.48 277.20,201.46 C277.47,201.43 277.73,201.02 278.00,200.98 C278.27,200.94 278.53,201.23 278.80,201.22 C279.07,201.20 279.33,200.99 279.60,200.87 C279.87,200.75 280.13,200.59 280.40,200.48 C280.67,200.37 280.93,200.27 281.20,200.21 C281.47,200.16 281.73,200.14 282.00,200.15 C282.27,200.16 282.53,200.25 282.80,200.25 C283.07,200.25 283.33,200.25 283.60,200.15 C283.87,200.05 284.13,199.77 284.40,199.66 C284.67,199.55 284.93,199.50 285.20,199.50 C285.47,199.50 285.73,199.63 286.00,199.65 C286.27,199.66 286.53,199.62 286.80,199.58 C287.07,199.53 287.33,199.44 287.60,199.38 C287.87,199.33 288.13,199.22 288.40,199.24 C288.67,199.26 288.93,199.47 289.20,199.50 C289.47,199.53 289.73,199.32 290.00,199.42 C290.27,199.51 290.53,199.83 290.80,200.05 C291.07,200.26 291.33,200.44 291.60,200.69 C291.87,200.95 292.13,201.34 292.40,201.60 C292.67,201.86 292.93,201.95 293.20,202.26 C293.47,202.56 293.73,203.09 294.00,203.42 C294.27,203.75 294.13,202.97 294.80,204.24 C295.47,205.50 297.12,208.67 298.00,211.00 C298.88,213.33 299.20,213.37 300.10,218.20 C301.00,223.03 302.33,232.70 303.40,240.00 C304.47,247.30 305.57,255.83 306.50,262.00 C307.43,268.17 307.95,271.73 309.00,277.00 C310.05,282.27 311.63,288.85 312.80,293.60 C313.97,298.35 314.88,301.48 316.00,305.50 C317.12,309.52 318.33,314.45 319.50,317.70 C320.67,320.95 321.67,322.85 323.00,325.00 C324.33,327.15 325.52,329.22 327.50,330.60 C329.48,331.98 330.67,332.88 334.90,333.30 C339.13,333.72 344.60,333.13 352.90,333.10 C361.20,333.07 374.82,332.98 384.70,333.10 C394.58,333.22 402.65,333.52 412.20,333.80 C421.75,334.08 437.03,334.63 442.00,334.80" fill="none" stroke="#e8343c" stroke-width="1.35" stroke-linejoin="round" stroke-linecap="round" />
<path d="M255.60,218.20 C256.00,217.67 257.15,215.73 258.00,215.00 C258.85,214.27 259.70,213.72 260.70,213.80 C261.70,213.88 262.78,214.55 264.00,215.50 C265.22,216.45 266.67,218.12 268.00,219.50 C269.33,220.88 270.67,222.58 272.00,223.80 C273.33,225.02 274.75,226.02 276.00,226.80 C277.25,227.58 278.00,227.72 279.50,228.50 C281.00,229.28 283.13,230.40 285.00,231.50 C286.87,232.60 289.20,233.93 290.70,235.10 C292.20,236.27 293.05,237.25 294.00,238.50 C294.95,239.75 295.57,240.68 296.40,242.60 C297.23,244.52 298.28,247.30 299.00,250.00 C299.72,252.70 299.97,255.55 300.70,258.80 C301.43,262.05 302.60,265.80 303.40,269.50 C304.20,273.20 304.83,276.98 305.50,281.00 C306.17,285.02 306.73,289.27 307.40,293.60 C308.07,297.93 308.90,303.10 309.50,307.00 C310.10,310.90 310.45,313.50 311.00,317.00 C311.55,320.50 312.17,325.03 312.80,328.00 C313.43,330.97 313.93,332.72 314.80,334.80 C315.67,336.88 316.93,338.92 318.00,340.50 C319.07,342.08 319.62,343.35 321.20,344.30 C322.78,345.25 324.37,345.75 327.50,346.20 C330.63,346.65 331.25,346.85 340.00,347.00 C348.75,347.15 366.67,347.13 380.00,347.10 C393.33,347.07 409.67,346.90 420.00,346.80 C430.33,346.70 438.33,346.55 442.00,346.50" fill="none" stroke="#1a1a1a" stroke-width="1.35" stroke-linejoin="round" stroke-linecap="round" />
<line x1="255.50" y1="198.50" x2="255.50" y2="348.20" stroke="#3a3a3a" stroke-width="1.3" />
<line x1="254.80" y1="348.20" x2="443.00" y2="348.20" stroke="#222" stroke-width="1.2" />
<line x1="255.50" y1="198.50" x2="442.50" y2="198.50" stroke="#333" stroke-width="1.0" />
<line x1="442.50" y1="198.50" x2="442.50" y2="348.20" stroke="#333" stroke-width="1.1" />
<line x1="255.50" y1="348.20" x2="255.50" y2="351.30" stroke="#222" stroke-width="1.0" />
<line x1="286.60" y1="348.20" x2="286.60" y2="351.30" stroke="#222" stroke-width="1.0" />
<line x1="317.70" y1="348.20" x2="317.70" y2="351.30" stroke="#222" stroke-width="1.0" />
<line x1="348.80" y1="348.20" x2="348.80" y2="351.30" stroke="#222" stroke-width="1.0" />
<line x1="379.90" y1="348.20" x2="379.90" y2="351.30" stroke="#222" stroke-width="1.0" />
<line x1="411.00" y1="348.20" x2="411.00" y2="351.30" stroke="#222" stroke-width="1.0" />
<line x1="442.10" y1="348.20" x2="442.10" y2="351.30" stroke="#222" stroke-width="1.0" />
<line x1="271.05" y1="348.20" x2="271.05" y2="350.20" stroke="#222" stroke-width="1.0" />
<line x1="302.15" y1="348.20" x2="302.15" y2="350.20" stroke="#222" stroke-width="1.0" />
<line x1="333.25" y1="348.20" x2="333.25" y2="350.20" stroke="#222" stroke-width="1.0" />
<line x1="364.35" y1="348.20" x2="364.35" y2="350.20" stroke="#222" stroke-width="1.0" />
<line x1="395.45" y1="348.20" x2="395.45" y2="350.20" stroke="#222" stroke-width="1.0" />
<line x1="426.55" y1="348.20" x2="426.55" y2="350.20" stroke="#222" stroke-width="1.0" />
<text x="255.50" y="359.30" font-size="8.7" font-weight="bold" text-anchor="middle" fill="#111" >200</text>
<text x="286.60" y="359.30" font-size="8.7" font-weight="bold" text-anchor="middle" fill="#111" >300</text>
<text x="317.70" y="359.30" font-size="8.7" font-weight="bold" text-anchor="middle" fill="#111" >400</text>
<text x="348.80" y="359.30" font-size="8.7" font-weight="bold" text-anchor="middle" fill="#111" >500</text>
<text x="379.90" y="359.30" font-size="8.7" font-weight="bold" text-anchor="middle" fill="#111" >600</text>
<text x="411.00" y="359.30" font-size="8.7" font-weight="bold" text-anchor="middle" fill="#111" >700</text>
<text x="442.10" y="359.30" font-size="8.7" font-weight="bold" text-anchor="middle" fill="#111" >800</text>
<text x="350.18" y="370.00" font-size="8.3" font-weight="bold" text-anchor="middle" fill="#111" letter-spacing="0.35" xml:space="preserve">Wavelength  (nm)</text>
<text x="244.00" y="273.30" font-size="8.9" font-weight="bold" text-anchor="middle" fill="#111" transform="rotate(-90 244.0 273.3)">Absorbance (arb.units)</text>
<line x1="343.10" y1="208.50" x2="354.90" y2="208.50" stroke="#1a1a1a" stroke-width="1.15" />
<text x="358.90" y="211.70" font-size="9.8" font-weight="bold" text-anchor="start" fill="#111" letter-spacing="0.35" >TiO<tspan font-size="5.1" dy="2.3">2</tspan><tspan dy="-2.3">&#8203;</tspan></text>
<line x1="343.10" y1="219.50" x2="354.90" y2="219.50" stroke="#e8343c" stroke-width="1.15" />
<text x="358.90" y="223.10" font-size="9.8" font-weight="bold" text-anchor="start" fill="#111" letter-spacing="0.35" >0.5%MoO<tspan font-size="5.1" dy="2.3">x</tspan><tspan dy="-2.3">&#8203;</tspan>-TiO<tspan font-size="5.1" dy="2.3">2</tspan><tspan dy="-2.3">&#8203;</tspan></text>
<line x1="343.10" y1="230.50" x2="354.90" y2="230.50" stroke="#4cbb6c" stroke-width="1.15" />
<text x="358.90" y="234.50" font-size="9.8" font-weight="bold" text-anchor="start" fill="#111" letter-spacing="0.35" >MoO<tspan font-size="5.1" dy="2.3">3</tspan><tspan dy="-2.3">&#8203;</tspan></text>
<text x="477.90" y="209.70" font-size="14.5" font-weight="bold" text-anchor="middle" fill="#000" >f</text>
<line x1="498.00" y1="341.30" x2="678.00" y2="341.30" stroke="#3cb84a" stroke-width="0.8" stroke-dasharray="1.2 1.2"/>
<line x1="498.00" y1="342.60" x2="678.00" y2="342.60" stroke="#e8343c" stroke-width="0.8" stroke-dasharray="1.2 1.2"/>
<line x1="551.30" y1="347.80" x2="632.95" y2="198.60" stroke="#3cb84a" stroke-width="0.7" stroke-dasharray="2 1"/>
<line x1="560.30" y1="348.40" x2="609.60" y2="198.60" stroke="#e8343c" stroke-width="0.7" stroke-dasharray="2 1"/>
<line x1="565.00" y1="348.00" x2="621.60" y2="198.60" stroke="#1a1a1a" stroke-width="0.7" stroke-dasharray="2 1"/>
<line x1="551.30" y1="341.30" x2="551.30" y2="348.00" stroke="#3cb84a" stroke-width="0.6" />
<path d="M491.00,347.80 C495.83,347.78 511.83,347.73 520.00,347.70 C528.17,347.67 535.17,347.65 540.00,347.60 C544.83,347.55 546.67,347.53 549.00,347.40 C551.33,347.27 552.42,347.13 554.00,346.80 C555.58,346.47 556.95,346.20 558.50,345.40 C560.05,344.60 561.88,343.40 563.30,342.00 C564.72,340.60 565.88,338.58 567.00,337.00 C568.12,335.42 568.97,334.50 570.00,332.50 C571.03,330.50 572.12,327.92 573.20,325.00 C574.28,322.08 575.28,318.97 576.50,315.00 C577.72,311.03 579.03,305.12 580.50,301.20 C581.97,297.28 583.88,294.92 585.30,291.50 C586.72,288.08 587.58,283.50 589.00,280.70 C590.42,277.90 592.30,276.63 593.80,274.70 C595.30,272.77 597.15,270.24 598.00,269.14 C598.85,268.04 598.60,268.33 598.90,268.09 C599.20,267.84 599.50,267.93 599.80,267.68 C600.10,267.44 600.40,266.97 600.70,266.62 C601.00,266.27 601.30,265.89 601.60,265.57 C601.90,265.24 602.20,264.86 602.50,264.67 C602.80,264.48 603.10,264.55 603.40,264.44 C603.70,264.33 604.00,264.20 604.30,264.01 C604.60,263.81 604.90,263.50 605.20,263.27 C605.50,263.04 605.80,262.76 606.10,262.63 C606.40,262.49 606.70,262.53 607.00,262.45 C607.30,262.38 607.60,262.39 607.90,262.17 C608.20,261.94 608.50,261.39 608.80,261.11 C609.10,260.82 609.40,260.60 609.70,260.43 C610.00,260.27 610.30,260.27 610.60,260.13 C610.90,260.00 611.20,259.77 611.50,259.62 C611.80,259.47 612.10,259.47 612.40,259.23 C612.70,259.00 613.00,258.42 613.30,258.23 C613.60,258.04 613.90,258.23 614.20,258.09 C614.50,257.96 614.80,257.67 615.10,257.42 C615.40,257.18 615.70,256.90 616.00,256.63 C616.30,256.36 616.60,255.93 616.90,255.79 C617.20,255.66 617.50,256.01 617.80,255.84 C618.10,255.67 618.40,254.97 618.70,254.78 C619.00,254.59 619.30,254.87 619.60,254.70 C619.90,254.54 620.20,254.01 620.50,253.79 C620.80,253.57 621.10,253.45 621.40,253.39 C621.70,253.34 622.00,253.57 622.30,253.46 C622.60,253.36 622.90,252.84 623.20,252.76 C623.50,252.68 623.80,253.05 624.10,252.97 C624.40,252.90 624.70,252.51 625.00,252.31 C625.30,252.11 625.60,251.90 625.90,251.76 C626.20,251.63 626.50,251.56 626.80,251.49 C627.10,251.42 627.40,251.38 627.70,251.33 C628.00,251.29 628.30,251.25 628.60,251.20 C628.90,251.16 629.20,251.27 629.50,251.07 C629.80,250.88 630.10,250.25 630.40,250.04 C630.70,249.83 631.00,249.95 631.30,249.81 C631.60,249.67 631.90,249.29 632.20,249.21 C632.50,249.14 632.80,249.52 633.10,249.35 C633.40,249.18 633.70,248.49 634.00,248.20 C634.30,247.92 634.60,247.81 634.90,247.64 C635.20,247.47 635.50,247.28 635.80,247.16 C636.10,247.05 636.40,247.00 636.70,246.96 C637.00,246.91 637.30,246.98 637.60,246.89 C637.90,246.80 638.20,246.59 638.50,246.41 C638.80,246.23 639.10,245.97 639.40,245.82 C639.70,245.68 640.00,245.70 640.30,245.57 C640.60,245.44 640.90,245.29 641.20,245.04 C641.50,244.80 641.80,244.35 642.10,244.09 C642.40,243.84 642.70,243.58 643.00,243.51 C643.30,243.43 643.60,243.72 643.90,243.63 C644.20,243.55 644.50,243.28 644.80,243.01 C645.10,242.73 645.40,242.13 645.70,241.96 C646.00,241.78 646.30,242.10 646.60,241.98 C646.90,241.87 647.20,241.47 647.50,241.27 C647.80,241.07 648.10,240.95 648.40,240.78 C648.70,240.61 649.00,240.44 649.30,240.25 C649.60,240.06 649.90,239.83 650.20,239.63 C650.50,239.42 650.80,239.15 651.10,239.00 C651.40,238.85 651.70,238.85 652.00,238.73 C652.30,238.62 652.60,238.38 652.90,238.31 C653.20,238.24 653.50,238.50 653.80,238.30 C654.10,238.11 654.40,237.31 654.70,237.15 C655.00,236.99 655.30,237.48 655.60,237.33 C655.90,237.18 656.20,236.47 656.50,236.22 C656.80,235.97 657.10,235.92 657.40,235.83 C657.70,235.74 658.00,235.79 658.30,235.68 C658.60,235.56 658.90,235.37 659.20,235.14 C659.50,234.90 659.80,234.56 660.10,234.26 C660.40,233.97 660.70,233.57 661.00,233.38 C661.30,233.18 661.60,233.28 661.90,233.11 C662.20,232.94 662.50,232.54 662.80,232.38 C663.10,232.21 663.40,232.38 663.70,232.11 C664.00,231.84 664.30,231.11 664.60,230.79 C664.90,230.46 665.20,230.32 665.50,230.15 C665.80,229.99 666.10,230.10 666.40,229.80 C666.70,229.49 667.00,228.65 667.30,228.32 C667.60,228.00 667.90,228.01 668.20,227.86 C668.50,227.72 668.80,227.64 669.10,227.45 C669.40,227.25 669.70,227.04 670.00,226.71 C670.30,226.38 670.60,225.79 670.90,225.47 C671.20,225.16 671.50,225.03 671.80,224.83 C672.10,224.62 672.40,224.31 672.70,224.22 C673.00,224.14 673.30,224.47 673.60,224.30 C673.90,224.12 674.20,223.39 674.50,223.16 C674.80,222.94 675.10,223.07 675.40,222.95 C675.70,222.84 676.00,222.73 676.30,222.47 C676.60,222.22 677.05,221.59 677.20,221.42" fill="none" stroke="#1a1a1a" stroke-width="1.5" stroke-linejoin="round" stroke-linecap="round" />
<path d="M491.00,341.60 C494.17,341.58 504.33,341.55 510.00,341.50 C515.67,341.45 521.33,341.40 525.00,341.30 C528.67,341.20 529.73,341.07 532.00,340.90 C534.27,340.73 536.77,340.62 538.60,340.30 C540.43,339.98 541.57,339.55 543.00,339.00 C544.43,338.45 545.90,337.62 547.20,337.00 C548.50,336.38 549.67,335.97 550.80,335.30 C551.93,334.63 553.00,333.78 554.00,333.00 C555.00,332.22 555.93,331.45 556.80,330.60 C557.67,329.75 558.30,329.03 559.20,327.90 C560.10,326.77 561.23,325.17 562.20,323.80 C563.17,322.43 563.82,321.83 565.00,319.70 C566.18,317.57 567.72,314.28 569.30,311.00 C570.88,307.72 572.43,305.45 574.50,300.00 C576.57,294.55 579.28,285.13 581.70,278.30 C584.12,271.47 586.58,264.23 589.00,259.00 C591.42,253.77 594.37,249.74 596.20,246.90 C598.03,244.06 599.22,242.89 600.00,241.94 C600.78,240.98 600.60,241.49 600.90,241.17 C601.20,240.85 601.50,240.41 601.80,240.04 C602.10,239.68 602.40,239.26 602.70,238.97 C603.00,238.67 603.30,238.55 603.60,238.27 C603.90,237.99 604.20,237.59 604.50,237.30 C604.80,237.01 605.10,236.79 605.40,236.53 C605.70,236.26 606.00,235.90 606.30,235.70 C606.60,235.50 606.90,235.48 607.20,235.31 C607.50,235.15 607.80,234.94 608.10,234.72 C608.40,234.50 608.70,234.19 609.00,233.98 C609.30,233.78 609.60,233.74 609.90,233.50 C610.20,233.27 610.50,232.80 610.80,232.56 C611.10,232.32 611.40,232.24 611.70,232.08 C612.00,231.93 612.30,231.77 612.60,231.64 C612.90,231.51 613.20,231.45 613.50,231.31 C613.80,231.17 614.10,231.00 614.40,230.79 C614.70,230.59 615.00,230.28 615.30,230.07 C615.60,229.85 615.90,229.68 616.20,229.52 C616.50,229.36 616.80,229.26 617.10,229.12 C617.40,228.99 617.70,228.81 618.00,228.70 C618.30,228.58 618.60,228.60 618.90,228.44 C619.20,228.27 619.50,227.86 619.80,227.72 C620.10,227.57 620.40,227.65 620.70,227.55 C621.00,227.45 621.30,227.25 621.60,227.12 C621.90,226.99 622.20,226.88 622.50,226.75 C622.80,226.62 623.10,226.48 623.40,226.33 C623.70,226.18 624.00,226.03 624.30,225.86 C624.60,225.70 624.90,225.49 625.20,225.34 C625.50,225.19 625.80,225.06 626.10,224.93 C626.40,224.80 626.70,224.65 627.00,224.55 C627.30,224.45 627.60,224.47 627.90,224.32 C628.20,224.17 628.50,223.82 628.80,223.65 C629.10,223.48 629.40,223.39 629.70,223.31 C630.00,223.23 630.30,223.27 630.60,223.15 C630.90,223.02 631.20,222.73 631.50,222.56 C631.80,222.38 632.10,222.24 632.40,222.10 C632.70,221.95 633.00,221.79 633.30,221.69 C633.60,221.59 633.90,221.62 634.20,221.51 C634.50,221.39 634.80,221.12 635.10,221.02 C635.40,220.91 635.70,220.97 636.00,220.87 C636.30,220.78 636.60,220.56 636.90,220.42 C637.20,220.29 637.50,220.23 637.80,220.05 C638.10,219.86 638.40,219.53 638.70,219.33 C639.00,219.13 639.30,218.98 639.60,218.83 C639.90,218.67 640.20,218.51 640.50,218.40 C640.80,218.28 641.10,218.22 641.40,218.12 C641.70,218.01 642.00,217.91 642.30,217.76 C642.60,217.61 642.90,217.39 643.20,217.21 C643.50,217.04 643.80,216.84 644.10,216.69 C644.40,216.54 644.70,216.44 645.00,216.32 C645.30,216.20 645.60,216.09 645.90,215.97 C646.20,215.84 646.50,215.69 646.80,215.56 C647.10,215.42 647.40,215.29 647.70,215.16 C648.00,215.03 648.30,214.92 648.60,214.78 C648.90,214.63 649.20,214.48 649.50,214.29 C649.80,214.11 650.10,213.79 650.40,213.67 C650.70,213.55 651.00,213.68 651.30,213.56 C651.60,213.44 651.90,213.10 652.20,212.95 C652.50,212.80 652.80,212.80 653.10,212.67 C653.40,212.55 653.70,212.33 654.00,212.21 C654.30,212.10 654.60,212.12 654.90,211.98 C655.20,211.84 655.50,211.55 655.80,211.39 C656.10,211.23 656.40,211.15 656.70,211.03 C657.00,210.91 657.30,210.79 657.60,210.66 C657.90,210.53 658.20,210.33 658.50,210.25 C658.80,210.16 659.10,210.26 659.40,210.16 C659.70,210.07 660.00,209.83 660.30,209.66 C660.60,209.50 660.90,209.32 661.20,209.18 C661.50,209.05 661.80,208.91 662.10,208.83 C662.40,208.75 662.70,208.81 663.00,208.69 C663.30,208.57 663.60,208.29 663.90,208.11 C664.20,207.93 664.50,207.72 664.80,207.61 C665.10,207.51 665.40,207.56 665.70,207.46 C666.00,207.36 666.30,207.13 666.60,207.01 C666.90,206.90 667.20,206.93 667.50,206.76 C667.80,206.60 668.10,206.19 668.40,206.02 C668.70,205.86 669.00,205.87 669.30,205.79 C669.60,205.71 669.90,205.65 670.20,205.54 C670.50,205.44 670.80,205.29 671.10,205.17 C671.40,205.05 671.70,205.00 672.00,204.81 C672.30,204.63 672.60,204.25 672.90,204.08 C673.20,203.91 673.50,203.92 673.80,203.80 C674.10,203.68 674.40,203.48 674.70,203.35 C675.00,203.22 675.30,203.07 675.60,203.00 C675.90,202.92 676.20,203.03 676.50,202.93 C676.80,202.83 677.25,202.48 677.40,202.39" fill="none" stroke="#e8343c" stroke-width="1.5" stroke-linejoin="round" stroke-linecap="round" />
<path d="M491.00,340.60 C494.17,340.58 504.33,340.57 510.00,340.50 C515.67,340.43 521.33,340.33 525.00,340.20 C528.67,340.07 529.73,339.92 532.00,339.70 C534.27,339.48 536.77,339.22 538.60,338.90 C540.43,338.58 541.57,338.28 543.00,337.80 C544.43,337.32 545.90,336.60 547.20,336.00 C548.50,335.40 549.67,334.92 550.80,334.20 C551.93,333.48 553.00,332.57 554.00,331.70 C555.00,330.83 555.93,330.00 556.80,329.00 C557.67,328.00 558.38,326.90 559.20,325.70 C560.02,324.50 560.92,323.08 561.70,321.80 C562.48,320.52 563.15,319.47 563.90,318.00 C564.65,316.53 565.23,315.20 566.20,313.00 C567.17,310.80 568.40,307.63 569.70,304.80 C571.00,301.97 572.40,298.82 574.00,296.00 C575.60,293.18 577.63,290.40 579.30,287.90 C580.97,285.40 582.38,283.20 584.00,281.00 C585.62,278.80 587.00,276.78 589.00,274.70 C591.00,272.62 594.68,269.76 596.00,268.53 C597.32,267.31 596.60,267.57 596.90,267.33 C597.20,267.09 597.50,267.31 597.80,267.10 C598.10,266.89 598.40,266.38 598.70,266.09 C599.00,265.79 599.30,265.46 599.60,265.31 C599.90,265.16 600.20,265.27 600.50,265.18 C600.80,265.10 601.10,265.06 601.40,264.77 C601.70,264.48 602.00,263.70 602.30,263.47 C602.60,263.24 602.90,263.48 603.20,263.38 C603.50,263.29 603.80,263.12 604.10,262.89 C604.40,262.67 604.70,262.24 605.00,262.04 C605.30,261.84 605.60,261.86 605.90,261.69 C606.20,261.52 606.50,261.19 606.80,261.02 C607.10,260.84 607.40,260.75 607.70,260.61 C608.00,260.48 608.30,260.30 608.60,260.21 C608.90,260.12 609.20,260.16 609.50,260.07 C609.80,259.99 610.10,259.89 610.40,259.68 C610.70,259.48 611.00,259.08 611.30,258.84 C611.60,258.60 611.90,258.36 612.20,258.24 C612.50,258.11 612.80,258.13 613.10,258.09 C613.40,258.05 613.70,258.15 614.00,257.99 C614.30,257.83 614.60,257.32 614.90,257.13 C615.20,256.94 615.50,256.97 615.80,256.85 C616.10,256.72 616.40,256.42 616.70,256.36 C617.00,256.31 617.30,256.60 617.60,256.53 C617.90,256.46 618.20,256.18 618.50,255.96 C618.80,255.74 619.10,255.37 619.40,255.20 C619.70,255.03 620.00,254.99 620.30,254.94 C620.60,254.90 620.90,254.95 621.20,254.93 C621.50,254.91 621.80,254.87 622.10,254.82 C622.40,254.77 622.70,254.81 623.00,254.66 C623.30,254.52 623.60,254.09 623.90,253.94 C624.20,253.80 624.50,253.77 624.80,253.79 C625.10,253.81 625.40,254.10 625.70,254.06 C626.00,254.03 626.30,253.73 626.60,253.60 C626.90,253.47 627.20,253.37 627.50,253.29 C627.80,253.20 628.10,253.07 628.40,253.10 C628.70,253.14 629.00,253.55 629.30,253.48 C629.60,253.41 629.90,252.81 630.20,252.68 C630.50,252.55 630.80,252.76 631.10,252.69 C631.40,252.63 631.70,252.38 632.00,252.28 C632.30,252.19 632.60,252.11 632.90,252.12 C633.20,252.12 633.50,252.29 633.80,252.30 C634.10,252.31 634.40,252.35 634.70,252.20 C635.00,252.05 635.30,251.61 635.60,251.41 C635.90,251.22 636.20,251.07 636.50,251.05 C636.80,251.03 637.10,251.38 637.40,251.31 C637.70,251.24 638.00,250.81 638.30,250.63 C638.60,250.45 638.90,250.20 639.20,250.24 C639.50,250.27 639.80,250.84 640.10,250.84 C640.40,250.83 640.70,250.29 641.00,250.21 C641.30,250.13 641.60,250.44 641.90,250.38 C642.20,250.31 642.50,249.87 642.80,249.82 C643.10,249.77 643.40,250.12 643.70,250.07 C644.00,250.01 644.30,249.67 644.60,249.50 C644.90,249.33 645.20,249.18 645.50,249.05 C645.80,248.92 646.10,248.73 646.40,248.72 C646.70,248.71 647.00,248.98 647.30,249.00 C647.60,249.02 647.90,248.88 648.20,248.86 C648.50,248.84 648.80,249.03 649.10,248.87 C649.40,248.70 649.70,248.01 650.00,247.88 C650.30,247.74 650.60,248.13 650.90,248.08 C651.20,248.03 651.50,247.69 651.80,247.57 C652.10,247.45 652.40,247.52 652.70,247.39 C653.00,247.25 653.30,246.89 653.60,246.75 C653.90,246.60 654.20,246.59 654.50,246.54 C654.80,246.48 655.10,246.43 655.40,246.41 C655.70,246.39 656.00,246.60 656.30,246.42 C656.60,246.24 656.90,245.51 657.20,245.32 C657.50,245.14 657.80,245.32 658.10,245.30 C658.40,245.28 658.70,245.26 659.00,245.20 C659.30,245.15 659.60,245.19 659.90,244.96 C660.20,244.74 660.50,244.13 660.80,243.87 C661.10,243.60 661.40,243.41 661.70,243.37 C662.00,243.33 662.30,243.67 662.60,243.64 C662.90,243.61 663.20,243.42 663.50,243.19 C663.80,242.96 664.10,242.55 664.40,242.25 C664.70,241.95 665.00,241.47 665.30,241.37 C665.60,241.27 665.90,241.77 666.20,241.66 C666.50,241.54 666.80,240.85 667.10,240.69 C667.40,240.52 667.70,240.80 668.00,240.68 C668.30,240.57 668.60,240.14 668.90,239.99 C669.20,239.83 669.50,239.96 669.80,239.76 C670.10,239.56 670.40,238.90 670.70,238.77 C671.00,238.64 671.30,239.07 671.60,238.96 C671.90,238.84 672.20,238.26 672.50,238.09 C672.80,237.91 673.10,237.92 673.40,237.90 C673.70,237.87 674.00,238.00 674.30,237.95 C674.60,237.89 674.90,237.80 675.20,237.59 C675.50,237.37 675.80,236.87 676.10,236.66 C676.40,236.45 676.70,236.43 677.00,236.34 C677.30,236.26 677.75,236.18 677.90,236.15" fill="none" stroke="#3cb84a" stroke-width="1.5" stroke-linejoin="round" stroke-linecap="round" />
<line x1="491.30" y1="198.60" x2="491.30" y2="348.40" stroke="#222" stroke-width="1.3" />
<line x1="490.60" y1="348.40" x2="678.50" y2="348.40" stroke="#222" stroke-width="1.2" />
<line x1="491.30" y1="198.60" x2="678.00" y2="198.60" stroke="#333" stroke-width="1.0" />
<line x1="678.00" y1="198.60" x2="678.00" y2="348.40" stroke="#333" stroke-width="1.1" />
<line x1="491.20" y1="348.40" x2="491.20" y2="351.50" stroke="#222" stroke-width="1.0" />
<line x1="522.34" y1="348.40" x2="522.34" y2="351.50" stroke="#222" stroke-width="1.0" />
<line x1="553.47" y1="348.40" x2="553.47" y2="351.50" stroke="#222" stroke-width="1.0" />
<line x1="584.61" y1="348.40" x2="584.61" y2="351.50" stroke="#222" stroke-width="1.0" />
<line x1="615.74" y1="348.40" x2="615.74" y2="351.50" stroke="#222" stroke-width="1.0" />
<line x1="646.88" y1="348.40" x2="646.88" y2="351.50" stroke="#222" stroke-width="1.0" />
<line x1="678.01" y1="348.40" x2="678.01" y2="351.50" stroke="#222" stroke-width="1.0" />
<line x1="506.77" y1="348.40" x2="506.77" y2="350.40" stroke="#222" stroke-width="1.0" />
<line x1="537.90" y1="348.40" x2="537.90" y2="350.40" stroke="#222" stroke-width="1.0" />
<line x1="569.04" y1="348.40" x2="569.04" y2="350.40" stroke="#222" stroke-width="1.0" />
<line x1="600.17" y1="348.40" x2="600.17" y2="350.40" stroke="#222" stroke-width="1.0" />
<line x1="631.31" y1="348.40" x2="631.31" y2="350.40" stroke="#222" stroke-width="1.0" />
<line x1="662.44" y1="348.40" x2="662.44" y2="350.40" stroke="#222" stroke-width="1.0" />
<text x="491.20" y="358.50" font-size="8.7" font-weight="bold" text-anchor="middle" fill="#111" >2.0</text>
<text x="522.34" y="358.50" font-size="8.7" font-weight="bold" text-anchor="middle" fill="#111" >2.5</text>
<text x="553.47" y="358.50" font-size="8.7" font-weight="bold" text-anchor="middle" fill="#111" >3.0</text>
<text x="584.61" y="358.50" font-size="8.7" font-weight="bold" text-anchor="middle" fill="#111" >3.5</text>
<text x="615.74" y="358.50" font-size="8.7" font-weight="bold" text-anchor="middle" fill="#111" >4.0</text>
<text x="646.88" y="358.50" font-size="8.7" font-weight="bold" text-anchor="middle" fill="#111" >4.5</text>
<text x="678.01" y="358.50" font-size="8.7" font-weight="bold" text-anchor="middle" fill="#111" >5.0</text>
<line x1="488.20" y1="348.40" x2="491.30" y2="348.40" stroke="#222" stroke-width="1.0" />
<text x="486.90" y="351.50" font-size="8.7" font-weight="bold" text-anchor="end" fill="#111" >0</text>
<line x1="488.20" y1="318.40" x2="491.30" y2="318.40" stroke="#222" stroke-width="1.0" />
<text x="486.90" y="321.50" font-size="8.7" font-weight="bold" text-anchor="end" fill="#111" >1</text>
<line x1="488.20" y1="288.40" x2="491.30" y2="288.40" stroke="#222" stroke-width="1.0" />
<text x="486.90" y="291.50" font-size="8.7" font-weight="bold" text-anchor="end" fill="#111" >2</text>
<line x1="488.20" y1="258.40" x2="491.30" y2="258.40" stroke="#222" stroke-width="1.0" />
<text x="486.90" y="261.50" font-size="8.7" font-weight="bold" text-anchor="end" fill="#111" >3</text>
<line x1="488.20" y1="228.40" x2="491.30" y2="228.40" stroke="#222" stroke-width="1.0" />
<text x="486.90" y="231.50" font-size="8.7" font-weight="bold" text-anchor="end" fill="#111" >4</text>
<line x1="488.20" y1="198.40" x2="491.30" y2="198.40" stroke="#222" stroke-width="1.0" />
<text x="486.90" y="201.50" font-size="8.7" font-weight="bold" text-anchor="end" fill="#111" >5</text>
<line x1="489.30" y1="333.40" x2="491.30" y2="333.40" stroke="#222" stroke-width="1.0" />
<line x1="489.30" y1="303.40" x2="491.30" y2="303.40" stroke="#222" stroke-width="1.0" />
<line x1="489.30" y1="273.40" x2="491.30" y2="273.40" stroke="#222" stroke-width="1.0" />
<line x1="489.30" y1="243.40" x2="491.30" y2="243.40" stroke="#222" stroke-width="1.0" />
<line x1="489.30" y1="213.40" x2="491.30" y2="213.40" stroke="#222" stroke-width="1.0" />
<text x="585.07" y="370.00" font-size="8.3" font-weight="bold" text-anchor="middle" fill="#111" letter-spacing="0.35" >hv (eV)</text>
<g transform="rotate(-90 477.0 272.6)"><text x="477.0" y="275.6" font-size="8.5" font-weight="bold" letter-spacing="0.3" text-anchor="middle" fill="#111">(&#945;hv)<tspan font-size="4.6" dy="-3.6">1/2</tspan></text></g>
<text x="542.80" y="328.70" font-size="8.6" font-weight="bold" text-anchor="middle" fill="#3cb84a" >2.96</text>
<text x="582.40" y="332.50" font-size="8.6" font-weight="bold" text-anchor="middle" fill="#e8343c" >3.10</text>
<text x="581.60" y="347.80" font-size="8.6" font-weight="bold" text-anchor="middle" fill="#111" >3.16</text>
<line x1="546.00" y1="331.20" x2="551.30" y2="341.00" stroke="#3cb84a" stroke-width="0.6" />
<path d="M545.4,330.2 L548.0,332.6 L546.0,333.4 Z" fill="#3cb84a"/>
<line x1="573.60" y1="329.20" x2="570.00" y2="333.40" stroke="#e8343c" stroke-width="0.7" />
<path d="M569.6,334.0 L570.4,331.2 L572.2,332.8 Z" fill="#e8343c"/>
<line x1="564.40" y1="346.80" x2="571.00" y2="345.40" stroke="#1a1a1a" stroke-width="0.6" />
<path d="M572.6,345.1 L569.8,344.0 L570.3,346.6 Z" fill="#1a1a1a"/>
<line x1="564.00" y1="347.60" x2="566.80" y2="343.80" stroke="#1a1a1a" stroke-width="0.6" />
<line x1="502.00" y1="208.50" x2="513.60" y2="208.50" stroke="#1a1a1a" stroke-width="1.15" />
<text x="517.90" y="211.80" font-size="9.8" font-weight="bold" text-anchor="start" fill="#111" letter-spacing="0.35" >TiO<tspan font-size="5.1" dy="2.3">2</tspan><tspan dy="-2.3">&#8203;</tspan></text>
<line x1="502.00" y1="219.50" x2="513.60" y2="219.50" stroke="#e8343c" stroke-width="1.15" />
<text x="517.90" y="223.30" font-size="9.8" font-weight="bold" text-anchor="start" fill="#111" letter-spacing="0.35" >0.5%MoO<tspan font-size="5.1" dy="2.3">x</tspan><tspan dy="-2.3">&#8203;</tspan>-TiO<tspan font-size="5.1" dy="2.3">2</tspan><tspan dy="-2.3">&#8203;</tspan></text>
<line x1="502.00" y1="230.50" x2="513.60" y2="230.50" stroke="#3cb84a" stroke-width="1.15" />
<text x="517.90" y="234.50" font-size="9.8" font-weight="bold" text-anchor="start" fill="#111" letter-spacing="0.35" >MoO<tspan font-size="5.1" dy="2.3">3</tspan><tspan dy="-2.3">&#8203;</tspan></text>
</svg></body></html>
